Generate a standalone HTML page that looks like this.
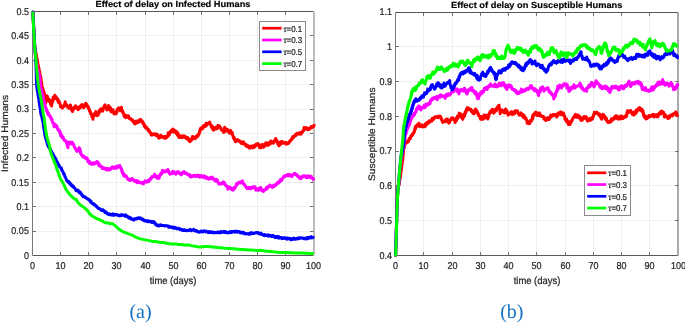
<!DOCTYPE html>
<html><head><meta charset="utf-8"><style>
html,body{margin:0;padding:0;background:#fff;width:685px;height:323px;overflow:hidden}
svg{display:block;will-change:transform}
text{text-rendering:geometricPrecision}
.k{stroke:#262626;stroke-width:0.22}
.kb{stroke:#000;stroke-width:0.15}
</style></head><body>
<svg width="685" height="323" viewBox="0 0 685 323">
<rect width="685" height="323" fill="#fff"/>
<line x1="60.5" y1="11.5" x2="60.5" y2="255.5" stroke="#efefef" stroke-width="1"/>
<line x1="88.5" y1="11.5" x2="88.5" y2="255.5" stroke="#efefef" stroke-width="1"/>
<line x1="116.5" y1="11.5" x2="116.5" y2="255.5" stroke="#efefef" stroke-width="1"/>
<line x1="145.5" y1="11.5" x2="145.5" y2="255.5" stroke="#efefef" stroke-width="1"/>
<line x1="173.5" y1="11.5" x2="173.5" y2="255.5" stroke="#efefef" stroke-width="1"/>
<line x1="201.5" y1="11.5" x2="201.5" y2="255.5" stroke="#efefef" stroke-width="1"/>
<line x1="229.5" y1="11.5" x2="229.5" y2="255.5" stroke="#efefef" stroke-width="1"/>
<line x1="257.5" y1="11.5" x2="257.5" y2="255.5" stroke="#efefef" stroke-width="1"/>
<line x1="285.5" y1="11.5" x2="285.5" y2="255.5" stroke="#efefef" stroke-width="1"/>
<line x1="32.5" y1="231.5" x2="313.5" y2="231.5" stroke="#efefef" stroke-width="1"/>
<line x1="32.5" y1="206.5" x2="313.5" y2="206.5" stroke="#efefef" stroke-width="1"/>
<line x1="32.5" y1="182.5" x2="313.5" y2="182.5" stroke="#efefef" stroke-width="1"/>
<line x1="32.5" y1="157.5" x2="313.5" y2="157.5" stroke="#efefef" stroke-width="1"/>
<line x1="32.5" y1="133.5" x2="313.5" y2="133.5" stroke="#efefef" stroke-width="1"/>
<line x1="32.5" y1="109.5" x2="313.5" y2="109.5" stroke="#efefef" stroke-width="1"/>
<line x1="32.5" y1="84.5" x2="313.5" y2="84.5" stroke="#efefef" stroke-width="1"/>
<line x1="32.5" y1="60.5" x2="313.5" y2="60.5" stroke="#efefef" stroke-width="1"/>
<line x1="32.5" y1="35.5" x2="313.5" y2="35.5" stroke="#efefef" stroke-width="1"/>
<line x1="32.5" y1="11.5" x2="313.5" y2="11.5" stroke="#555555" stroke-width="1"/>
<line x1="32.5" y1="255.5" x2="313.5" y2="255.5" stroke="#5a5a5a" stroke-width="1.2"/>
<line x1="32.5" y1="11.5" x2="32.5" y2="255.5" stroke="#7a7a7a" stroke-width="1"/>
<line x1="314" y1="11.5" x2="314" y2="255.5" stroke="#bdbdbd" stroke-width="2"/>
<path d="M60.5 255.5v-3.3M60.5 11.5v3.3M88.5 255.5v-3.3M88.5 11.5v3.3M116.5 255.5v-3.3M116.5 11.5v3.3M145.5 255.5v-3.3M145.5 11.5v3.3M173.5 255.5v-3.3M173.5 11.5v3.3M201.5 255.5v-3.3M201.5 11.5v3.3M229.5 255.5v-3.3M229.5 11.5v3.3M257.5 255.5v-3.3M257.5 11.5v3.3M285.5 255.5v-3.3M285.5 11.5v3.3M32.5 231.5h3.3M313.5 231.5h-3.3M32.5 206.5h3.3M313.5 206.5h-3.3M32.5 182.5h3.3M313.5 182.5h-3.3M32.5 157.5h3.3M313.5 157.5h-3.3M32.5 133.5h3.3M313.5 133.5h-3.3M32.5 109.5h3.3M313.5 109.5h-3.3M32.5 84.5h3.3M313.5 84.5h-3.3M32.5 60.5h3.3M313.5 60.5h-3.3M32.5 35.5h3.3M313.5 35.5h-3.3" stroke="#6a6a6a" stroke-width="1" fill="none"/>
<text transform="translate(32.5,269.3) scale(1,1.1)" text-anchor="middle" font-family="Liberation Sans" font-size="9.0" class="k" fill="#262626">0</text>
<text transform="translate(60.5,269.3) scale(1,1.1)" text-anchor="middle" font-family="Liberation Sans" font-size="9.0" class="k" fill="#262626">10</text>
<text transform="translate(88.5,269.3) scale(1,1.1)" text-anchor="middle" font-family="Liberation Sans" font-size="9.0" class="k" fill="#262626">20</text>
<text transform="translate(116.5,269.3) scale(1,1.1)" text-anchor="middle" font-family="Liberation Sans" font-size="9.0" class="k" fill="#262626">30</text>
<text transform="translate(145.5,269.3) scale(1,1.1)" text-anchor="middle" font-family="Liberation Sans" font-size="9.0" class="k" fill="#262626">40</text>
<text transform="translate(173.5,269.3) scale(1,1.1)" text-anchor="middle" font-family="Liberation Sans" font-size="9.0" class="k" fill="#262626">50</text>
<text transform="translate(201.5,269.3) scale(1,1.1)" text-anchor="middle" font-family="Liberation Sans" font-size="9.0" class="k" fill="#262626">60</text>
<text transform="translate(229.5,269.3) scale(1,1.1)" text-anchor="middle" font-family="Liberation Sans" font-size="9.0" class="k" fill="#262626">70</text>
<text transform="translate(257.5,269.3) scale(1,1.1)" text-anchor="middle" font-family="Liberation Sans" font-size="9.0" class="k" fill="#262626">80</text>
<text transform="translate(285.5,269.3) scale(1,1.1)" text-anchor="middle" font-family="Liberation Sans" font-size="9.0" class="k" fill="#262626">90</text>
<text transform="translate(313.5,269.3) scale(1,1.1)" text-anchor="middle" font-family="Liberation Sans" font-size="9.0" class="k" fill="#262626">100</text>
<text transform="translate(28.9,258.75) scale(1,1.1)" text-anchor="end" font-family="Liberation Sans" font-size="9.0" class="k" fill="#262626">0</text>
<text transform="translate(28.9,234.35) scale(1,1.1)" text-anchor="end" font-family="Liberation Sans" font-size="9.0" class="k" fill="#262626">0.05</text>
<text transform="translate(28.9,209.95) scale(1,1.1)" text-anchor="end" font-family="Liberation Sans" font-size="9.0" class="k" fill="#262626">0.1</text>
<text transform="translate(28.9,185.55) scale(1,1.1)" text-anchor="end" font-family="Liberation Sans" font-size="9.0" class="k" fill="#262626">0.15</text>
<text transform="translate(28.9,161.15) scale(1,1.1)" text-anchor="end" font-family="Liberation Sans" font-size="9.0" class="k" fill="#262626">0.2</text>
<text transform="translate(28.9,136.75) scale(1,1.1)" text-anchor="end" font-family="Liberation Sans" font-size="9.0" class="k" fill="#262626">0.25</text>
<text transform="translate(28.9,112.35) scale(1,1.1)" text-anchor="end" font-family="Liberation Sans" font-size="9.0" class="k" fill="#262626">0.3</text>
<text transform="translate(28.9,87.95) scale(1,1.1)" text-anchor="end" font-family="Liberation Sans" font-size="9.0" class="k" fill="#262626">0.35</text>
<text transform="translate(28.9,63.55) scale(1,1.1)" text-anchor="end" font-family="Liberation Sans" font-size="9.0" class="k" fill="#262626">0.4</text>
<text transform="translate(28.9,39.15) scale(1,1.1)" text-anchor="end" font-family="Liberation Sans" font-size="9.0" class="k" fill="#262626">0.45</text>
<text transform="translate(28.9,14.75) scale(1,1.1)" text-anchor="end" font-family="Liberation Sans" font-size="9.0" class="k" fill="#262626">0.5</text>
<polyline points="32.8,11.5 32.8,12.8 32.8,12.0 32.9,12.3 32.9,12.4 32.9,13.8 32.9,13.3 33.0,16.3 33.0,13.7 33.0,16.6 33.0,15.1 33.1,16.7 33.1,17.9 33.1,18.1 33.1,18.3 33.2,17.2 33.2,18.5 33.2,20.2 33.2,18.9 33.3,19.5 33.3,21.7 33.3,22.1 33.3,20.8 33.4,20.3 33.4,20.7 33.4,22.4 33.4,24.2 33.5,25.0 33.5,25.5 33.5,24.0 33.5,24.8 33.6,24.8 33.6,26.1 33.6,26.2 33.6,27.1 33.7,27.7 33.7,27.8 33.7,27.9 33.7,28.5 33.7,29.2 33.8,28.6 33.8,30.4 33.8,32.0 33.8,30.8 33.9,30.6 33.9,32.4 33.9,32.8 33.9,32.9 34.0,33.2 34.0,33.0 34.0,33.7 34.0,34.9 34.1,35.9 34.1,36.2 34.1,35.4 34.1,36.7 34.2,36.2 34.2,38.1 34.2,37.8 34.2,38.3 34.3,37.9 34.3,38.6 34.3,40.5 34.3,38.7 34.4,40.7 34.4,40.6 34.4,41.0 34.4,41.2 34.5,42.2 34.5,42.0 34.5,43.0 34.5,44.0 34.6,44.2 34.6,45.6 34.6,43.3 34.7,45.4 34.7,45.8 34.8,46.6 34.9,46.4 34.9,46.6 35.0,47.8 35.0,47.4 35.1,47.7 35.2,48.7 35.2,50.1 35.3,50.9 35.3,50.2 35.4,49.6 35.5,50.9 35.5,50.7 35.6,51.3 35.7,51.9 35.8,54.2 35.9,52.9 36.0,52.8 36.1,53.2 36.1,54.1 36.2,54.8 36.3,56.5 36.4,55.7 36.5,55.5 36.6,56.7 36.7,57.7 36.8,59.0 36.9,58.3 37.0,58.0 37.1,58.5 37.1,60.4 37.2,60.6 37.3,62.2 37.4,60.2 37.5,61.3 37.5,60.0 37.6,62.3 37.7,62.0 37.8,63.0 37.8,63.9 37.9,64.8 38.0,65.6 38.1,64.2 38.2,65.3 38.2,65.0 38.3,66.0 38.4,67.3 38.5,66.1 38.5,67.7 38.6,68.0 38.7,68.2 38.8,68.4 38.9,69.5 38.9,70.7 39.0,70.8 39.1,68.6 39.3,72.3 39.4,72.0 39.5,72.0 39.6,72.8 39.7,71.8 39.9,72.9 40.0,73.9 40.1,74.3 40.2,74.3 40.3,75.0 40.4,75.6 40.5,76.0 40.6,76.8 40.6,77.1 40.7,77.4 40.8,77.8 40.8,77.8 40.9,78.3 41.0,78.6 41.0,78.8 41.1,80.5 41.1,80.4 41.2,80.7 41.3,80.5 41.3,81.5 41.4,81.0 41.5,82.6 41.5,83.5 41.6,82.5 41.7,83.1 41.7,83.7 41.8,85.3 41.9,85.4 41.9,86.2 42.0,86.0 42.1,86.9 42.2,87.4 42.3,87.5 42.4,88.1 42.6,87.8 42.7,88.6 42.8,90.5 42.9,89.7 43.0,88.8 43.1,91.1 43.3,90.0 43.4,92.0 43.5,91.9 43.7,91.1 43.8,92.9 43.9,93.7 44.1,92.9 44.2,93.7 44.3,92.9 44.5,95.3 44.6,95.7 44.6,94.7 44.7,96.7 44.7,97.0 44.7,96.7 44.8,97.8 44.8,98.2 44.9,99.4 45.0,98.1 45.1,97.6 45.1,99.1 45.2,100.6 45.3,100.8 45.3,100.9 45.4,101.4 45.5,101.6 45.6,101.6 45.7,103.1 45.8,100.6 45.9,101.2 46.0,100.7 46.1,101.8 46.2,99.9 46.3,98.5 46.4,99.2 46.5,97.3 46.6,97.6 46.7,98.0 46.9,96.7 47.0,95.8 47.1,96.0 47.2,96.1 47.4,96.8 47.6,97.0 47.8,98.3 48.0,100.0 48.2,98.8 48.4,98.5 48.7,99.0 48.9,101.4 49.1,99.9 49.3,101.3 49.6,100.2 49.8,101.9 50.0,102.4 50.1,100.3 50.3,101.5 50.5,102.1 50.6,104.4 50.8,103.4 50.9,103.9 51.1,102.7 51.3,105.4 51.4,105.0 51.6,106.1 51.7,104.2 51.8,103.1 52.0,104.0 52.1,103.0 52.3,102.0 52.4,102.4 52.5,101.4 52.6,101.9 52.7,100.8 52.8,100.5 52.9,99.1 53.0,98.3 53.0,100.3 53.1,98.9 53.2,97.0 53.3,100.1 53.4,97.4 53.6,98.4 54.0,96.7 54.4,97.1 54.8,95.3 55.2,98.4 55.5,97.9 55.8,96.4 56.2,97.7 56.5,97.9 56.8,98.2 57.0,97.9 57.3,99.0 57.6,100.5 57.8,100.7 58.1,99.7 58.3,102.3 58.5,100.8 58.7,101.7 58.9,101.1 59.1,102.4 59.3,102.4 59.5,103.0 59.7,102.5 59.9,103.0 60.0,104.1 60.2,104.4 60.4,105.7 60.6,106.6 60.7,105.8 60.9,106.9 61.1,105.4 61.5,106.7 61.9,106.7 62.4,108.1 62.8,106.8 63.1,107.4 63.5,106.8 63.9,106.3 64.2,106.0 64.3,105.5 64.4,105.2 64.5,104.2 64.6,105.2 64.8,103.4 64.9,104.0 65.0,103.1 65.1,103.1 65.2,101.8 65.3,103.8 65.5,103.3 65.6,103.8 65.8,104.4 65.9,104.7 66.0,103.9 66.2,104.3 66.5,106.1 66.8,104.9 67.1,106.4 67.4,106.8 67.7,106.6 68.1,107.3 68.6,108.2 69.0,106.2 69.3,107.5 69.5,107.3 69.7,106.9 69.8,107.0 70.0,105.9 70.2,105.6 70.3,105.0 70.4,105.2 70.5,105.9 70.6,105.4 70.7,106.5 70.8,105.8 70.9,108.3 71.0,109.1 71.1,109.5 71.2,108.2 71.3,108.3 71.5,109.2 71.8,110.3 72.0,110.4 72.3,110.1 72.5,111.6 72.7,110.1 73.0,109.6 73.2,110.4 73.4,108.9 73.7,108.3 73.9,107.4 74.2,108.9 74.5,108.0 74.8,107.6 75.2,107.0 75.5,105.8 75.9,107.3 76.4,107.6 76.8,107.2 77.1,108.2 77.4,107.6 77.7,107.2 77.9,109.7 78.2,108.9 78.5,109.0 78.7,108.9 78.9,107.9 79.1,109.1 79.3,108.4 79.5,107.6 79.7,107.2 80.0,106.3 80.3,107.4 80.6,106.3 80.8,107.4 81.1,105.9 81.5,104.9 82.0,104.5 82.4,105.1 82.7,106.4 82.9,106.7 83.1,107.0 83.3,107.4 83.5,106.5 83.7,107.8 83.9,106.2 84.0,106.4 84.2,106.0 84.4,106.2 84.6,106.6 84.8,105.5 84.9,104.9 85.1,104.0 85.5,104.3 85.8,103.2 86.2,105.6 86.6,104.2 86.9,105.0 87.1,105.8 87.4,105.5 87.7,107.1 87.9,106.1 88.2,107.8 88.4,108.3 88.6,108.6 88.7,107.6 88.9,109.1 89.1,108.6 89.3,110.3 89.5,111.2 89.6,110.9 89.8,111.6 90.0,111.9 90.2,111.2 90.3,111.9 90.5,113.7 90.7,113.5 90.9,112.5 91.1,114.0 91.2,113.6 91.4,114.1 91.6,114.5 91.8,116.7 91.9,115.6 92.1,116.2 92.3,117.0 92.5,117.2 92.6,117.5 92.8,118.7 93.0,119.3 93.2,116.6 93.4,116.4 93.5,115.9 93.7,115.7 93.9,115.1 94.1,114.8 94.2,113.9 94.5,115.5 94.7,113.5 95.0,114.7 95.3,113.2 95.5,113.5 95.8,111.4 96.0,112.9 96.2,114.7 96.4,113.3 96.6,113.9 96.8,114.1 97.0,115.0 97.2,115.8 97.4,115.6 97.7,115.3 97.9,114.4 98.1,113.8 98.4,114.3 98.6,114.3 98.8,111.7 99.0,113.1 99.1,111.1 99.2,112.3 99.3,112.7 99.4,111.0 99.5,110.1 99.8,109.9 100.2,111.6 100.6,109.9 100.9,108.8 101.2,109.4 101.6,109.7 102.0,110.0 102.3,110.6 102.6,110.4 102.8,111.1 102.9,110.1 103.1,109.8 103.2,108.1 103.4,107.8 103.5,108.0 103.7,107.3 103.9,107.3 104.1,106.0 104.4,106.6 104.6,106.5 104.9,105.1 105.1,104.9 105.3,105.9 105.6,106.8 105.8,108.1 106.0,106.9 106.3,107.6 106.6,107.0 106.9,110.0 107.3,109.8 107.6,109.2 107.8,108.7 108.0,107.7 108.2,108.2 108.4,107.4 108.6,105.4 108.8,105.8 109.0,107.9 109.2,107.6 109.3,107.2 109.5,107.8 109.7,107.4 109.9,110.2 110.4,107.5 110.8,110.2 111.2,111.9 111.6,110.5 112.1,109.8 112.5,110.0 112.9,109.6 113.1,110.7 113.3,111.8 113.6,112.6 113.8,111.7 114.0,113.9 114.3,113.5 114.6,113.6 115.0,112.7 115.5,113.7 115.9,113.5 116.1,113.0 116.2,113.7 116.4,111.7 116.6,111.1 116.7,111.8 116.9,112.3 117.1,109.3 117.3,110.6 117.5,110.4 117.7,109.8 117.9,109.0 118.1,109.1 118.3,108.9 118.5,107.9 118.9,109.3 119.2,107.9 119.5,109.2 119.8,110.3 120.2,110.7 120.6,108.4 121.0,110.6 121.5,107.3 121.7,110.8 121.8,109.7 122.0,110.4 122.2,110.1 122.3,110.8 122.5,111.0 122.7,111.5 122.8,112.9 123.0,111.9 123.2,112.0 123.3,113.1 123.5,113.6 123.7,114.1 123.8,114.9 124.0,115.3 124.2,116.0 124.3,116.5 124.5,116.4 124.8,116.3 125.2,116.2 125.7,117.7 126.1,115.3 126.5,116.5 126.9,116.1 127.4,116.4 127.8,117.1 128.1,117.4 128.4,115.7 128.7,117.1 129.0,117.6 129.4,118.6 129.8,118.7 130.3,118.7 130.7,118.6 131.1,119.6 131.4,119.5 131.8,119.6 132.2,119.8 132.4,119.7 132.6,119.9 132.8,121.3 133.0,121.6 133.2,121.6 133.4,120.9 133.6,122.3 133.9,122.7 134.3,123.3 134.7,123.8 135.2,122.6 135.4,123.8 135.6,121.6 135.8,121.6 136.1,121.1 136.5,121.2 136.9,121.7 137.3,121.0 137.7,121.7 138.1,122.7 138.5,121.1 138.9,121.6 139.2,120.1 139.6,121.2 140.0,120.2 140.4,119.9 140.7,119.3 141.0,121.6 141.3,121.3 141.7,120.7 142.0,120.7 142.3,122.0 142.5,122.7 142.8,122.0 143.1,123.9 143.3,123.4 143.6,123.3 143.9,124.6 144.1,124.6 144.3,124.5 144.5,126.6 144.8,126.9 145.0,125.8 145.3,127.1 145.6,127.8 145.9,126.6 146.2,126.9 146.5,127.9 146.8,128.7 147.1,128.4 147.4,128.5 147.6,129.1 147.9,129.9 148.2,130.6 148.5,129.4 148.7,131.0 149.0,130.9 149.3,130.6 149.5,131.7 149.8,131.8 150.1,133.0 150.4,132.3 150.6,133.5 150.9,133.1 151.2,134.9 151.5,134.7 151.9,135.0 152.4,134.4 152.8,134.9 153.2,133.7 153.6,133.9 154.1,134.5 154.5,134.1 154.9,134.7 155.2,134.9 155.6,134.1 156.0,133.9 156.4,135.8 156.7,135.2 157.1,135.5 157.5,134.6 157.9,135.9 158.3,136.4 158.8,138.3 159.2,137.3 159.6,136.7 160.0,135.9 160.5,137.5 160.9,135.3 161.3,136.7 161.8,136.9 162.2,136.3 162.5,137.0 162.9,136.5 163.3,137.4 163.7,137.2 164.1,138.2 164.6,136.5 165.0,137.5 165.4,137.6 165.8,138.2 166.2,137.7 166.6,137.1 166.9,136.0 167.2,137.1 167.4,135.9 167.7,135.7 168.0,136.3 168.3,132.8 168.5,134.9 168.8,133.8 169.1,134.8 169.3,134.9 169.6,133.2 169.9,132.7 170.2,132.1 170.5,131.3 170.8,131.5 171.1,132.2 171.4,130.9 171.7,130.1 171.9,131.0 172.2,130.1 172.7,129.0 173.1,130.3 173.5,130.1 173.9,132.3 174.3,131.3 174.7,130.2 175.0,132.2 175.4,131.7 175.7,131.1 176.0,132.5 176.4,133.7 176.6,131.5 176.9,133.7 177.2,134.7 177.4,134.6 177.7,135.7 178.0,133.1 178.2,135.3 178.5,134.6 178.8,137.3 179.1,137.0 179.3,135.7 179.7,137.6 180.0,137.3 180.4,137.0 180.8,136.1 181.2,136.2 181.6,137.1 182.0,137.8 182.5,135.8 182.9,136.6 183.4,136.2 183.8,136.3 184.2,136.1 184.6,137.3 185.0,137.5 185.4,136.3 185.8,138.3 186.3,138.3 186.7,138.7 187.1,138.0 187.4,138.6 187.6,138.1 187.9,137.5 188.1,138.7 188.4,138.4 188.7,140.5 188.9,139.8 189.1,141.1 189.3,140.3 189.6,141.5 189.8,140.8 190.1,141.7 190.3,141.4 190.5,140.3 190.8,139.8 191.0,140.4 191.3,139.5 191.5,140.3 191.7,138.5 192.0,138.6 192.2,137.8 192.4,136.6 192.7,136.6 193.0,138.6 193.3,137.0 193.6,138.0 193.9,138.1 194.2,138.7 194.6,138.8 195.0,138.5 195.4,138.5 195.7,136.6 196.1,136.4 196.4,136.1 196.7,136.6 197.0,135.7 197.3,137.0 197.6,135.1 197.9,134.9 198.1,135.9 198.4,134.2 198.7,133.9 198.9,134.4 199.1,134.4 199.2,133.3 199.4,133.2 199.5,131.9 199.7,131.1 199.8,131.1 200.0,131.5 200.2,129.2 200.3,130.2 200.6,129.4 200.8,127.9 201.1,128.4 201.4,128.5 201.6,128.2 201.9,129.0 202.2,128.0 202.6,127.7 202.9,128.5 203.2,125.7 203.5,127.3 204.0,126.1 204.4,125.5 204.8,126.3 205.2,126.4 205.5,124.4 205.8,126.1 206.1,123.3 206.5,124.5 206.8,125.2 207.2,123.9 207.5,123.8 207.9,123.3 208.3,123.1 208.7,122.9 209.1,123.7 209.6,122.8 209.8,122.1 210.0,123.7 210.2,123.8 210.4,124.7 210.6,124.7 210.8,125.4 211.0,125.7 211.3,126.7 211.5,125.6 211.7,126.8 212.0,128.2 212.2,126.0 212.5,126.4 212.7,129.3 213.0,128.2 213.3,129.9 213.6,130.2 213.9,129.4 214.3,128.3 214.6,127.9 215.0,128.4 215.4,128.8 215.9,127.3 216.3,128.8 216.7,128.9 217.0,128.5 217.2,127.5 217.4,127.3 217.7,128.3 217.9,125.4 218.1,127.2 218.4,126.0 218.7,125.5 219.1,127.0 219.4,126.9 219.7,126.2 220.0,127.6 220.3,127.8 220.6,127.8 221.0,128.1 221.3,129.9 221.6,129.3 221.8,130.0 222.1,130.5 222.4,130.3 222.6,130.8 222.9,130.9 223.2,130.7 223.4,132.0 223.7,131.9 223.9,132.4 224.0,132.1 224.1,132.2 224.2,132.2 224.3,130.9 224.4,130.6 224.5,129.5 224.6,127.3 224.7,129.6 224.8,128.6 224.9,127.6 225.0,127.9 225.2,128.2 225.4,129.4 225.6,129.2 225.8,129.6 226.0,131.2 226.4,130.4 226.8,130.2 227.3,129.3 227.7,130.6 228.1,130.8 228.6,131.2 229.0,133.0 229.4,131.6 229.7,132.0 230.1,131.6 230.5,130.3 230.8,132.1 231.1,133.5 231.5,133.0 231.8,134.2 232.1,132.3 232.3,133.3 232.4,134.3 232.6,134.5 232.8,135.3 232.9,135.8 233.1,136.8 233.3,136.5 233.5,137.0 233.6,138.5 233.8,138.0 234.0,137.3 234.1,137.6 234.4,139.7 234.6,138.5 234.9,139.8 235.2,141.4 235.4,140.0 235.7,141.8 236.1,140.6 236.6,140.3 237.0,140.2 237.4,139.5 237.8,140.7 238.1,140.5 238.5,141.1 238.9,140.7 239.3,140.5 239.6,141.7 240.0,141.9 240.4,142.4 240.8,141.6 241.1,143.2 241.5,143.3 241.9,143.6 242.3,143.6 242.7,143.7 243.2,141.8 243.6,141.9 243.9,143.9 244.3,143.3 244.7,144.1 245.0,144.1 245.4,144.6 245.7,145.6 246.0,144.5 246.3,145.7 246.7,146.4 247.0,146.5 247.4,145.4 247.8,146.8 248.1,146.7 248.5,145.9 248.8,147.7 249.1,147.6 249.4,147.1 249.8,148.1 250.1,146.6 250.5,146.3 250.9,146.3 251.3,146.8 251.6,147.2 252.0,146.4 252.4,145.8 252.7,147.9 253.1,147.4 253.4,147.5 253.7,146.0 254.0,146.5 254.3,147.4 254.5,146.8 254.7,145.6 255.0,146.7 255.2,146.2 255.4,144.7 255.7,144.7 256.0,145.8 256.3,144.1 256.6,144.1 256.9,144.1 257.3,144.0 257.6,144.0 257.9,143.5 258.2,143.7 258.5,145.0 258.8,144.9 259.1,144.9 259.4,147.4 259.6,145.4 259.9,145.5 260.2,146.6 260.5,147.9 260.8,147.6 261.1,146.3 261.4,146.6 261.7,144.7 262.2,144.3 262.6,145.1 263.0,144.7 263.4,147.3 263.9,146.8 264.3,146.5 264.7,146.0 265.0,145.6 265.2,143.9 265.5,144.7 265.7,144.5 265.9,142.8 266.2,143.4 266.4,142.9 266.7,143.5 266.9,143.1 267.2,144.7 267.5,145.2 267.8,145.4 268.1,144.5 268.4,145.0 268.7,143.9 269.0,144.5 269.3,142.7 269.6,142.0 270.0,143.1 270.3,144.1 270.6,142.3 270.9,140.9 271.3,141.1 271.8,141.5 272.2,142.4 272.6,141.7 273.0,143.2 273.3,143.2 273.7,141.4 274.1,142.1 274.3,140.6 274.6,140.4 274.9,140.2 275.2,139.8 275.4,139.7 275.7,138.5 276.0,141.4 276.4,140.8 276.6,140.0 276.8,141.9 277.0,140.9 277.1,142.3 277.3,141.9 277.5,141.4 277.6,143.7 277.9,143.4 278.1,143.5 278.3,144.6 278.6,145.0 278.8,145.2 279.0,145.9 279.2,145.0 279.4,145.5 279.5,144.2 279.7,143.2 279.9,142.8 280.0,142.3 280.5,143.0 280.9,144.2 281.3,142.8 281.7,141.4 282.2,143.0 282.6,141.7 283.0,142.6 283.5,142.4 283.9,143.3 284.4,142.7 284.8,142.8 285.2,142.5 285.5,142.5 285.9,142.4 286.3,144.2 286.7,143.2 287.2,143.8 287.6,143.4 287.9,143.5 288.2,143.5 288.6,143.2 288.9,142.3 289.2,141.6 289.5,142.2 289.7,141.7 290.0,141.6 290.3,140.2 290.6,140.1 290.8,140.1 291.1,139.6 291.4,140.0 291.6,139.5 291.9,138.5 292.2,137.9 292.5,136.9 292.8,138.5 293.1,137.8 293.4,136.5 293.8,137.0 294.1,136.1 294.5,136.5 294.9,135.7 295.2,134.8 295.6,134.8 295.9,135.5 296.2,135.1 296.5,133.6 296.8,133.2 297.2,133.4 297.6,134.0 298.0,133.7 298.3,133.9 298.7,133.0 299.1,134.2 299.5,132.7 299.8,133.2 300.2,134.0 300.5,132.6 300.8,132.5 301.1,134.2 301.4,133.1 301.8,132.6 302.1,132.5 302.4,132.3 302.7,131.0 303.0,130.9 303.3,130.6 303.6,130.7 303.8,130.0 304.1,127.4 304.4,128.9 304.7,129.2 305.1,128.8 305.6,128.2 306.0,127.7 306.4,127.5 306.8,128.5 307.1,128.4 307.5,129.8 307.8,129.7 308.2,129.3 308.5,128.4 308.8,128.2 309.1,128.3 309.5,129.3 310.0,128.5 310.4,127.6 310.8,128.1 311.2,126.5 311.7,127.8 312.1,127.0 312.5,126.5 312.9,126.3 313.2,126.2 313.6,126.6 313.9,126.2 314.3,124.0" fill="none" stroke="#ff0000" stroke-width="3.0" stroke-linejoin="round" stroke-linecap="butt"/>
<polyline points="32.8,11.5 32.8,12.1 32.8,12.9 32.9,12.8 32.9,12.6 32.9,13.6 32.9,14.3 33.0,13.9 33.0,15.7 33.0,16.2 33.0,15.1 33.1,16.4 33.1,17.2 33.1,17.2 33.1,18.1 33.2,17.5 33.2,19.2 33.2,19.7 33.2,19.8 33.3,20.9 33.3,20.9 33.3,21.5 33.3,20.3 33.4,21.9 33.4,23.5 33.4,22.4 33.4,22.0 33.5,23.2 33.5,23.9 33.5,23.8 33.5,24.9 33.6,25.5 33.6,26.3 33.6,26.2 33.6,26.2 33.7,27.7 33.7,27.1 33.7,27.9 33.7,28.8 33.7,29.1 33.8,29.5 33.8,30.1 33.8,30.6 33.8,31.2 33.9,31.2 33.9,31.2 33.9,32.1 33.9,32.7 33.9,34.0 33.9,33.3 34.0,34.1 34.0,33.9 34.0,35.3 34.0,34.6 34.0,37.0 34.0,36.7 34.1,36.3 34.1,36.2 34.1,37.2 34.1,38.0 34.1,39.5 34.2,38.9 34.2,38.3 34.2,39.2 34.2,40.8 34.2,40.5 34.2,41.1 34.3,40.4 34.3,42.2 34.3,43.3 34.3,42.5 34.3,43.4 34.4,42.9 34.4,44.5 34.4,44.3 34.4,45.0 34.5,45.5 34.5,47.0 34.6,46.6 34.6,47.4 34.6,46.4 34.7,48.2 34.7,48.8 34.8,49.5 34.8,49.3 34.9,49.6 34.9,49.2 35.0,50.6 35.0,51.9 35.0,51.6 35.1,51.6 35.1,52.5 35.2,52.9 35.2,53.3 35.3,54.4 35.3,53.5 35.4,53.8 35.4,54.9 35.5,55.3 35.5,55.5 35.5,56.5 35.6,57.0 35.6,57.0 35.7,58.1 35.7,58.8 35.8,58.0 35.8,59.2 35.9,58.6 35.9,60.2 36.0,60.5 36.1,62.2 36.2,61.0 36.2,61.3 36.3,61.9 36.4,62.8 36.5,62.1 36.6,64.2 36.7,64.3 36.8,65.0 36.8,65.8 36.9,66.5 37.0,66.2 37.1,65.6 37.2,65.4 37.3,67.4 37.3,67.5 37.4,67.8 37.5,68.4 37.6,68.8 37.7,69.4 37.8,69.1 37.9,69.4 37.9,70.1 38.0,71.3 38.1,72.6 38.2,71.1 38.3,71.6 38.4,72.4 38.5,73.9 38.7,74.9 38.9,75.4 39.1,74.1 39.3,74.5 39.3,74.4 39.4,74.7 39.4,77.1 39.5,76.9 39.6,76.1 39.6,78.4 39.7,78.3 39.7,78.4 39.8,79.2 39.8,80.0 39.9,80.2 39.9,80.5 40.0,79.6 40.0,80.2 40.1,81.0 40.1,81.4 40.2,81.7 40.3,82.3 40.3,83.5 40.4,84.1 40.4,85.1 40.5,84.5 40.5,85.8 40.6,86.1 40.7,87.0 40.8,86.3 40.9,86.6 41.0,87.0 41.1,87.1 41.2,88.5 41.2,88.8 41.3,89.7 41.4,90.5 41.5,91.1 41.6,90.4 41.7,91.1 41.8,89.9 41.9,91.7 42.0,92.2 42.1,93.1 42.2,93.1 42.2,93.8 42.3,94.3 42.4,93.9 42.5,96.1 42.6,96.1 42.7,96.0 42.8,95.2 42.9,96.5 43.0,97.1 43.1,96.1 43.2,97.8 43.3,98.3 43.4,100.0 43.4,99.4 43.5,99.9 43.6,100.1 43.8,100.8 43.9,100.8 44.0,101.0 44.1,102.8 44.2,103.4 44.3,102.6 44.5,102.7 44.6,102.4 44.7,105.0 44.8,103.3 44.9,104.7 45.0,106.4 45.1,106.2 45.3,106.5 45.4,106.2 45.6,106.8 45.7,107.3 45.9,108.1 46.0,107.9 46.1,108.7 46.3,110.5 46.4,109.1 46.6,109.2 46.8,111.0 46.9,110.6 47.1,110.7 47.3,112.1 47.5,112.0 47.6,113.4 47.8,113.8 48.0,113.7 48.2,114.6 48.5,113.1 48.8,114.8 49.0,115.3 49.3,115.1 49.6,115.5 49.8,116.4 50.0,116.7 50.3,116.8 50.5,117.7 50.7,116.6 51.0,117.9 51.2,118.5 51.3,118.1 51.5,119.3 51.7,118.8 51.8,119.2 52.0,120.7 52.1,119.5 52.3,120.9 52.5,122.1 52.6,122.8 52.8,122.1 53.0,122.4 53.1,122.3 53.3,123.1 53.5,123.7 53.7,123.4 53.8,125.2 54.0,126.1 54.2,126.8 54.6,126.0 55.0,124.3 55.5,125.4 55.8,125.6 56.2,125.4 56.5,126.6 56.8,126.5 57.0,126.2 57.1,127.8 57.3,128.5 57.5,128.3 57.6,128.9 57.8,129.1 58.0,129.0 58.3,129.3 58.5,130.4 58.7,130.3 59.0,130.3 59.2,130.5 59.4,131.9 59.6,131.4 59.8,132.2 60.0,131.2 60.2,133.7 60.4,133.1 60.6,135.8 60.8,135.0 61.0,134.6 61.3,134.4 61.5,135.8 61.7,136.4 62.0,136.7 62.2,137.6 62.4,137.9 62.7,138.1 62.9,138.2 63.1,136.8 63.4,138.8 63.6,139.1 63.8,139.2 64.1,140.3 64.4,140.3 64.7,140.4 65.0,140.0 65.4,141.2 65.8,141.2 66.1,141.6 66.2,142.0 66.4,142.9 66.5,141.6 66.6,142.3 66.8,144.1 66.9,143.8 67.1,143.7 67.2,145.0 67.3,144.5 67.4,146.3 67.5,146.4 67.6,146.8 67.8,146.8 67.9,147.7 67.9,146.5 68.0,146.5 68.1,146.0 68.2,145.6 68.2,145.7 68.3,144.4 68.4,144.0 68.5,142.5 68.6,143.9 69.0,142.4 69.4,143.2 69.9,142.9 70.3,142.1 70.7,142.9 71.1,143.1 71.6,144.0 72.0,143.3 72.4,142.4 72.8,143.8 73.2,143.7 73.4,144.3 73.6,144.6 73.8,144.8 74.0,145.8 74.2,146.6 74.4,146.9 74.6,147.4 74.8,147.5 75.0,148.2 75.2,147.9 75.4,148.8 75.6,148.3 75.8,149.3 76.0,149.5 76.2,149.5 76.5,149.9 76.7,151.3 77.0,151.0 77.2,151.3 77.4,151.1 77.6,150.4 77.8,149.5 78.0,149.8 78.2,149.6 78.5,150.4 78.9,148.5 79.2,147.6 79.4,148.6 79.6,149.3 79.7,149.9 79.9,148.8 80.1,151.3 80.2,150.9 80.4,150.4 80.5,153.1 80.6,151.9 80.7,151.5 80.9,153.1 81.0,154.7 81.1,153.3 81.2,154.6 81.4,154.8 81.7,155.0 82.1,155.1 82.4,155.6 82.7,156.5 83.0,157.0 83.4,156.7 83.8,156.1 84.2,157.1 84.5,157.6 84.9,157.9 85.3,157.6 85.7,158.4 86.0,157.9 86.3,157.5 86.7,159.1 87.0,158.8 87.3,158.4 87.5,160.4 87.7,160.6 87.9,161.8 88.2,161.2 88.6,160.9 88.9,161.5 89.3,161.0 89.7,163.4 90.0,162.3 90.3,162.4 90.6,163.2 91.0,163.1 91.3,164.3 91.7,163.8 92.1,164.2 92.4,163.8 92.8,163.6 93.2,162.9 93.5,163.9 93.9,163.6 94.3,164.1 94.7,162.7 95.2,163.0 95.6,163.1 96.0,162.6 96.5,162.5 96.9,161.5 97.3,163.0 97.6,162.6 97.9,162.2 98.2,163.0 98.5,164.0 98.8,165.3 99.0,163.5 99.2,164.8 99.4,165.3 99.6,166.0 99.8,165.9 100.0,166.1 100.2,166.2 100.6,165.9 101.1,166.0 101.5,166.8 102.0,167.1 102.3,168.5 102.7,167.3 103.1,167.8 103.5,168.5 103.8,168.7 104.2,168.3 104.6,168.7 104.9,168.0 105.3,169.2 105.7,169.4 106.1,169.8 106.4,168.4 106.8,168.8 107.1,168.8 107.4,170.0 107.7,168.9 108.0,168.6 108.4,169.9 108.8,169.1 109.2,169.1 109.5,168.8 109.9,168.6 110.3,169.8 110.7,168.8 111.0,168.7 111.3,167.7 111.7,167.6 112.0,167.5 112.3,166.7 112.6,166.9 113.0,168.1 113.4,168.1 113.8,167.7 114.2,168.4 114.6,167.4 115.1,168.0 115.5,168.2 115.9,166.6 116.3,167.5 116.6,168.1 117.0,166.3 117.4,167.3 117.9,167.2 118.3,165.9 118.7,166.9 119.2,166.7 119.6,165.5 120.0,166.3 120.3,166.6 120.5,167.1 120.8,168.1 121.0,167.9 121.1,169.4 121.3,168.8 121.4,169.5 121.5,168.7 121.6,170.1 121.8,169.6 121.9,171.8 122.0,171.4 122.2,170.7 122.3,172.2 122.5,173.0 122.7,173.4 122.8,173.7 123.0,174.0 123.2,173.5 123.5,173.3 123.8,175.9 124.0,174.7 124.3,175.3 124.6,176.4 125.0,176.0 125.3,175.2 125.7,176.4 126.1,175.9 126.4,176.3 126.7,176.9 127.0,177.8 127.4,178.0 127.7,179.3 128.0,178.8 128.3,179.1 128.6,179.5 129.0,179.6 129.3,180.2 129.7,180.4 130.0,179.1 130.4,179.7 130.8,179.8 131.2,179.9 131.7,179.0 132.1,178.5 132.5,180.0 132.8,179.4 133.2,179.9 133.5,180.1 133.9,179.9 134.3,180.7 134.8,181.5 135.2,181.3 135.6,180.9 136.1,180.6 136.5,181.8 136.9,182.6 137.4,181.3 137.8,180.9 138.3,181.8 138.7,181.6 139.1,182.5 139.5,182.8 139.9,182.6 140.3,182.3 140.7,183.0 141.1,182.9 141.6,182.8 142.0,183.2 142.4,182.6 142.8,182.6 143.2,183.2 143.5,183.9 143.8,182.7 144.2,182.5 144.5,182.2 144.9,180.8 145.3,182.0 145.7,181.7 146.2,181.9 146.6,181.5 147.0,181.1 147.4,182.0 147.8,181.1 148.1,181.2 148.4,180.2 148.8,181.0 149.1,181.3 149.4,180.5 149.7,179.3 150.0,179.1 150.3,178.6 150.7,179.3 150.9,178.4 151.2,178.9 151.5,177.4 151.7,176.9 152.0,177.3 152.3,177.2 152.7,176.6 153.1,176.8 153.4,176.3 153.8,175.8 154.2,175.9 154.6,174.2 155.0,176.6 155.4,176.3 155.8,176.2 156.1,177.4 156.5,175.9 156.8,177.3 157.1,176.2 157.4,178.2 157.8,177.1 158.1,177.7 158.4,177.8 158.7,178.3 158.9,178.0 159.0,178.4 159.2,177.9 159.3,177.6 159.4,177.3 159.5,176.8 159.6,175.9 159.8,175.4 160.0,174.7 160.2,174.5 160.5,174.5 160.8,173.4 161.0,174.6 161.3,173.2 161.6,173.4 161.8,173.6 162.1,172.5 162.4,170.6 162.7,172.2 162.9,171.1 163.4,170.9 163.8,171.5 164.3,172.0 164.7,171.9 165.2,170.7 165.6,171.7 166.1,171.4 166.5,171.5 166.9,171.1 167.4,171.0 167.8,169.5 168.3,170.9 168.6,170.8 168.8,171.7 169.0,173.1 169.2,172.5 169.4,172.8 169.7,173.8 170.0,174.2 170.3,173.7 170.6,173.9 170.9,173.7 171.3,173.3 171.6,173.2 171.9,172.8 172.3,172.4 172.7,171.4 173.1,173.4 173.5,172.4 173.9,172.0 174.3,171.8 174.7,173.4 175.0,173.0 175.5,172.9 175.9,174.2 176.4,173.2 176.8,172.6 177.2,171.9 177.6,172.1 177.9,172.6 178.3,171.6 178.6,172.3 178.9,172.6 179.2,173.5 179.6,173.7 179.9,173.8 180.3,173.9 180.8,173.4 181.2,174.9 181.6,174.4 182.0,174.2 182.3,173.5 182.7,172.3 183.1,172.0 183.5,172.8 184.0,171.6 184.4,172.2 184.6,172.3 184.9,173.4 185.3,173.0 185.7,172.8 186.1,173.6 186.5,173.1 186.9,173.4 187.3,173.7 187.7,174.6 188.0,174.3 188.4,174.4 188.7,174.8 189.0,175.1 189.3,175.7 189.6,175.9 189.9,174.7 190.3,175.9 190.6,177.1 190.9,175.8 191.2,176.8 191.6,176.0 192.0,175.9 192.4,176.5 192.7,175.8 193.2,175.5 193.6,175.8 194.0,176.3 194.5,176.4 194.9,175.3 195.4,175.4 195.8,176.1 196.2,175.9 196.6,176.7 196.9,175.4 197.3,175.3 197.7,175.9 198.2,175.2 198.6,175.6 199.0,175.7 199.4,177.2 199.9,175.7 200.3,175.6 200.7,176.4 201.2,176.9 201.6,175.6 202.1,176.7 202.5,176.6 202.9,177.3 203.4,176.7 203.8,176.6 204.3,175.8 204.7,177.7 205.1,176.5 205.5,176.5 205.9,178.0 206.3,177.6 206.6,178.4 207.1,177.3 207.5,177.6 207.9,178.5 208.4,179.1 208.8,178.9 209.2,178.5 209.6,178.5 210.1,178.9 210.5,177.3 210.9,178.7 211.4,177.8 211.8,177.5 212.3,177.2 212.7,177.9 213.1,179.0 213.6,179.0 214.0,179.9 214.4,179.1 214.7,179.9 215.1,179.8 215.5,181.1 215.9,179.8 216.3,179.4 216.8,180.3 217.2,179.9 217.4,180.6 217.7,181.6 217.9,182.3 218.2,182.9 218.4,182.9 218.7,183.0 218.9,184.1 219.2,183.7 219.6,184.2 220.0,183.6 220.4,183.6 220.9,183.3 221.3,183.9 221.8,184.0 222.2,182.9 222.6,183.5 223.1,182.0 223.5,183.3 223.9,183.4 224.2,182.5 224.5,183.5 224.9,183.7 225.1,185.1 225.3,184.7 225.5,185.1 225.7,185.4 225.9,185.0 226.2,185.8 226.5,185.9 226.8,186.6 227.1,187.5 227.5,186.4 227.8,189.2 228.2,187.5 228.6,188.2 229.0,188.3 229.4,187.1 229.9,188.4 230.3,187.4 230.7,188.9 231.1,188.2 231.5,188.8 231.8,189.3 232.2,189.8 232.6,188.9 233.0,189.9 233.3,189.6 233.5,189.9 233.8,188.2 234.0,187.5 234.3,187.6 234.6,188.3 234.8,187.3 235.1,188.0 235.4,186.8 235.6,186.7 235.9,186.5 236.2,185.0 236.5,183.9 236.7,184.8 237.0,184.9 237.3,184.6 237.7,183.1 238.1,183.7 238.4,182.6 238.8,182.4 239.3,182.3 239.7,182.7 240.1,182.1 240.5,183.0 240.8,182.1 241.1,182.6 241.5,181.8 241.9,181.6 242.3,180.9 242.5,182.1 242.8,182.7 243.0,183.4 243.3,183.2 243.5,183.9 243.8,184.2 244.0,184.1 244.3,185.1 244.6,184.8 244.9,185.0 245.2,185.7 245.5,186.0 245.8,186.4 246.2,187.8 246.6,187.5 247.0,187.5 247.3,188.6 247.8,188.3 248.2,187.5 248.6,187.2 249.1,187.8 249.5,188.8 250.0,188.1 250.4,188.2 250.8,187.2 251.2,188.7 251.7,187.6 252.1,187.5 252.5,187.6 253.0,186.8 253.4,187.6 253.8,187.1 254.3,187.1 254.7,187.8 254.9,186.8 255.1,187.6 255.4,188.8 255.6,188.5 255.8,190.0 256.1,190.2 256.4,188.5 256.9,189.9 257.3,188.9 257.7,189.8 258.0,188.7 258.3,189.7 258.7,190.3 259.0,188.9 259.3,189.2 259.7,188.0 260.1,187.7 260.4,188.5 260.7,187.5 261.0,188.8 261.2,188.9 261.5,189.8 261.8,190.6 262.2,189.7 262.6,190.6 263.1,190.7 263.5,191.5 263.8,190.5 264.2,190.7 264.6,189.7 265.0,189.8 265.4,189.3 265.8,189.6 266.3,187.6 266.6,188.6 266.8,187.7 267.1,188.7 267.4,188.5 267.6,186.8 267.9,187.3 268.3,186.7 268.7,186.8 269.1,185.8 269.4,185.8 269.9,185.0 270.3,185.6 270.7,186.0 271.1,186.0 271.6,186.9 272.0,185.8 272.5,187.4 272.9,186.4 273.4,185.6 273.8,186.6 274.2,186.1 274.6,185.0 275.0,184.7 275.3,185.6 275.7,184.8 276.1,185.0 276.5,184.5 276.8,184.0 277.2,182.9 277.5,183.7 277.8,182.2 278.1,182.9 278.5,182.7 278.8,183.0 279.1,182.7 279.4,181.5 279.7,181.8 280.1,180.1 280.4,180.4 280.8,179.4 281.2,180.9 281.5,179.9 281.8,180.1 282.1,178.8 282.4,178.5 282.7,178.5 282.9,178.1 283.2,177.5 283.4,177.6 283.6,177.0 283.8,176.2 284.0,177.0 284.2,176.4 284.6,175.9 285.0,176.5 285.5,175.5 285.9,175.8 286.3,175.9 286.7,175.9 287.2,174.8 287.6,175.4 287.9,175.1 288.3,174.4 288.7,175.4 289.1,175.9 289.5,174.6 289.9,174.7 290.4,175.7 290.7,174.9 291.1,175.8 291.5,175.6 291.9,176.6 292.2,176.1 292.5,175.6 292.8,175.4 293.1,174.5 293.5,174.5 293.8,174.5 294.2,173.5 294.6,173.3 295.0,173.8 295.3,174.0 295.7,174.6 296.1,174.8 296.5,174.4 296.8,174.8 297.1,175.3 297.4,176.1 297.8,175.7 298.1,175.9 298.4,176.8 298.7,176.6 299.0,177.6 299.3,177.5 299.7,178.5 300.1,178.0 300.5,177.0 301.0,178.2 301.3,178.4 301.6,177.9 302.0,177.6 302.3,177.3 302.6,176.2 303.0,175.8 303.3,175.8 303.7,175.8 304.1,175.7 304.5,176.3 304.8,176.2 305.2,175.9 305.6,177.1 305.9,176.8 306.2,176.7 306.6,177.6 306.9,177.5 307.1,177.5 307.4,176.2 307.7,177.6 307.9,175.7 308.2,176.1 308.6,176.3 308.9,177.3 309.3,177.1 309.7,176.1 310.1,177.4 310.4,177.4 310.8,178.0 311.2,176.2 311.6,177.3 312.0,177.9 312.5,177.8 312.9,178.2 313.1,178.7 313.3,178.8 313.5,179.4 313.7,180.4 313.9,180.6" fill="none" stroke="#ff00ff" stroke-width="3.0" stroke-linejoin="round" stroke-linecap="butt"/>
<polyline points="32.8,11.5 32.8,12.2 32.9,12.1 32.9,12.8 32.9,12.7 32.9,13.6 33.0,13.7 33.0,14.7 33.0,15.3 33.0,15.3 33.1,16.1 33.1,16.4 33.1,16.3 33.1,17.5 33.2,17.6 33.2,18.5 33.2,19.1 33.3,19.3 33.3,19.2 33.3,20.1 33.3,20.0 33.4,20.3 33.4,21.5 33.4,22.1 33.4,22.1 33.5,22.2 33.5,23.1 33.5,23.6 33.5,24.4 33.6,24.3 33.6,25.7 33.6,26.0 33.7,25.9 33.7,26.0 33.7,27.2 33.7,27.4 33.8,27.0 33.8,27.8 33.8,28.1 33.8,29.3 33.9,28.8 33.9,30.6 33.9,30.4 33.9,30.4 34.0,30.8 34.0,31.7 34.0,32.0 34.0,32.3 34.1,32.6 34.1,34.5 34.1,33.7 34.1,34.6 34.2,34.5 34.2,35.4 34.2,35.2 34.2,35.9 34.3,37.3 34.3,37.0 34.3,38.5 34.3,37.8 34.4,38.6 34.4,39.2 34.4,39.8 34.4,40.4 34.5,39.7 34.5,41.2 34.5,41.1 34.5,41.7 34.6,41.7 34.6,41.6 34.6,43.4 34.6,43.5 34.7,43.8 34.7,44.0 34.7,44.3 34.7,44.6 34.8,46.1 34.8,46.4 34.8,46.3 34.8,47.8 34.9,46.9 34.9,48.0 34.9,48.2 34.9,49.1 35.0,48.2 35.0,50.3 35.0,50.1 35.0,50.5 35.1,51.1 35.1,51.3 35.1,52.0 35.2,52.8 35.2,51.9 35.2,52.7 35.3,54.1 35.3,53.7 35.3,55.2 35.4,55.1 35.4,56.0 35.5,55.8 35.5,56.5 35.5,57.1 35.6,57.2 35.6,57.4 35.6,58.4 35.6,58.6 35.7,58.2 35.7,59.4 35.7,60.4 35.7,60.3 35.7,61.0 35.8,61.1 35.8,62.1 35.8,62.2 35.8,62.9 35.9,64.2 35.9,64.3 35.9,63.6 35.9,65.4 35.9,64.9 36.0,65.6 36.0,65.8 36.0,66.8 36.0,66.5 36.0,67.1 36.0,67.2 36.1,68.9 36.1,68.8 36.1,68.7 36.1,69.2 36.1,69.5 36.1,71.0 36.1,70.6 36.2,71.3 36.2,72.1 36.2,72.1 36.2,72.9 36.2,73.0 36.2,73.5 36.2,73.2 36.2,74.2 36.3,75.0 36.3,75.1 36.3,75.7 36.3,76.3 36.3,77.1 36.3,77.1 36.3,77.7 36.3,77.9 36.4,78.4 36.4,78.3 36.4,79.2 36.4,79.8 36.4,79.6 36.4,80.7 36.5,81.2 36.5,82.0 36.5,82.3 36.5,82.7 36.6,83.4 36.6,82.5 36.6,83.6 36.6,83.8 36.7,84.5 36.7,85.7 36.7,85.2 36.8,86.4 36.8,86.3 36.8,87.5 36.9,87.4 36.9,87.6 37.0,88.6 37.1,88.4 37.2,89.1 37.2,89.8 37.3,89.7 37.4,91.6 37.5,91.4 37.5,91.3 37.6,91.6 37.7,92.5 37.7,92.5 37.8,93.1 37.9,93.8 38.0,94.6 38.0,94.9 38.1,95.4 38.2,95.3 38.2,96.4 38.3,96.8 38.4,96.4 38.5,97.4 38.5,97.5 38.6,98.4 38.7,98.5 38.7,97.9 38.8,99.2 38.9,99.4 39.0,100.1 39.0,101.7 39.1,101.3 39.2,101.3 39.2,101.7 39.3,102.6 39.3,102.4 39.4,103.0 39.5,103.8 39.5,104.5 39.6,105.2 39.7,105.7 39.7,105.6 39.8,106.3 39.9,106.6 39.9,106.6 40.0,107.9 40.1,108.0 40.1,108.0 40.2,109.2 40.3,108.8 40.3,110.1 40.4,110.1 40.5,111.0 40.5,110.5 40.6,112.1 40.7,112.7 40.7,112.1 40.8,112.8 40.9,112.9 40.9,114.3 41.0,114.5 41.0,114.5 41.1,115.0 41.3,115.6 41.4,115.6 41.6,116.0 41.7,115.8 41.9,117.5 42.0,117.5 42.1,118.4 42.2,118.4 42.3,119.5 42.4,119.1 42.5,120.4 42.6,119.7 42.7,120.5 42.8,121.2 42.8,121.9 42.9,122.0 43.0,122.4 43.1,122.2 43.2,123.1 43.2,124.5 43.3,124.0 43.4,124.7 43.4,125.9 43.5,126.5 43.6,126.1 43.6,126.2 43.7,126.9 43.8,126.6 43.8,127.3 43.9,128.0 43.9,128.6 44.0,129.6 44.1,129.3 44.1,129.8 44.2,130.7 44.3,130.8 44.4,131.0 44.4,131.6 44.5,132.5 44.6,132.5 44.6,133.6 44.7,133.5 44.8,133.5 44.9,134.9 44.9,134.9 45.0,135.9 45.1,135.4 45.2,136.5 45.3,136.5 45.4,136.9 45.5,137.3 45.7,137.3 45.8,139.0 45.9,138.6 46.1,139.8 46.2,139.6 46.3,140.1 46.4,140.4 46.6,141.1 46.7,142.1 46.8,141.7 47.0,142.4 47.1,142.1 47.2,143.9 47.4,144.4 47.5,143.7 47.6,144.8 47.7,144.6 47.9,145.2 48.0,145.6 48.1,146.3 48.3,146.4 48.5,146.3 48.8,147.2 49.1,147.7 49.4,147.2 49.6,147.7 49.9,149.2 50.2,149.2 50.4,149.7 50.6,149.3 50.8,150.7 51.0,150.6 51.2,151.8 51.4,151.1 51.6,151.5 51.8,153.2 52.0,153.0 52.2,153.4 52.4,153.2 52.6,154.3 52.8,154.4 53.1,153.9 53.3,155.1 53.5,155.8 53.7,156.0 54.0,155.9 54.2,156.7 54.4,157.1 54.6,157.3 54.9,157.5 55.1,157.5 55.3,158.7 55.5,158.8 55.7,159.2 56.0,159.0 56.2,160.9 56.4,161.1 56.6,161.5 56.8,162.2 57.0,161.5 57.2,161.9 57.4,162.4 57.6,162.7 57.8,163.3 58.0,163.4 58.2,164.0 58.4,165.3 58.7,165.1 58.9,164.9 59.1,166.3 59.4,166.1 59.6,166.4 59.8,166.8 60.1,167.2 60.5,167.5 60.8,167.8 61.1,168.5 61.4,169.4 61.5,167.9 61.5,169.3 61.6,169.8 61.8,170.4 62.1,170.3 62.3,170.6 62.6,171.6 62.8,171.7 63.1,172.1 63.3,172.6 63.6,173.9 63.8,173.1 63.9,174.6 64.1,174.4 64.2,174.3 64.4,174.5 64.6,174.7 64.7,175.7 64.9,176.2 65.0,177.0 65.2,176.7 65.4,177.7 65.6,177.8 65.8,177.8 66.0,178.7 66.2,179.1 66.4,179.6 66.6,180.1 66.8,180.8 67.1,180.7 67.5,181.2 67.8,181.7 68.1,181.1 68.4,182.1 68.7,183.0 69.1,182.4 69.4,182.2 69.7,182.8 70.0,183.9 70.3,184.3 70.7,183.5 71.0,185.3 71.3,185.0 71.6,184.9 71.9,186.0 72.2,186.3 72.6,185.6 72.9,186.1 73.2,187.2 73.5,186.4 73.8,187.3 74.1,187.6 74.4,188.1 74.7,188.0 75.0,188.6 75.2,188.6 75.5,189.2 75.8,189.9 76.1,190.7 76.5,190.6 76.9,190.8 77.3,190.8 77.7,191.0 78.1,190.1 78.5,191.4 78.8,192.0 79.2,191.6 79.5,192.8 79.9,193.0 80.2,192.0 80.6,192.9 80.9,194.1 81.2,194.1 81.5,194.5 81.8,194.0 82.1,195.3 82.4,194.9 82.6,195.5 83.0,196.6 83.4,196.1 83.8,196.3 84.2,196.5 84.6,196.7 85.0,197.4 85.3,197.3 85.7,197.4 86.0,197.6 86.4,198.3 86.7,198.4 87.1,198.5 87.4,198.9 87.8,198.7 88.1,199.3 88.5,199.5 88.8,200.0 89.2,199.7 89.5,200.3 89.9,200.9 90.2,201.2 90.6,202.1 90.9,201.0 91.2,202.0 91.5,202.2 91.8,203.4 92.2,203.4 92.5,203.7 92.8,203.7 93.2,203.6 93.6,204.4 93.9,204.7 94.3,204.2 94.7,204.7 95.1,204.9 95.5,205.5 95.8,206.1 96.1,206.0 96.4,205.9 96.8,206.3 97.1,207.1 97.4,207.4 97.7,207.7 98.0,208.2 98.4,208.2 98.7,208.6 99.1,208.8 99.4,208.5 99.8,208.8 100.1,209.1 100.5,209.3 100.9,209.7 101.4,210.5 101.8,209.9 102.2,210.5 102.7,209.8 103.1,209.8 103.5,210.8 103.8,210.6 104.2,210.7 104.5,211.0 104.9,212.5 105.2,212.3 105.6,212.0 106.0,212.4 106.3,212.1 106.7,213.1 107.1,213.3 107.5,214.0 107.9,213.8 108.3,214.3 108.7,214.6 109.2,214.1 109.6,213.9 110.1,214.4 110.5,214.8 110.9,215.1 111.4,214.5 111.8,214.5 112.3,214.4 112.7,213.8 113.2,215.4 113.6,214.6 114.1,215.1 114.5,214.5 115.0,214.4 115.4,214.3 115.9,214.5 116.3,215.0 116.7,215.1 117.2,214.8 117.6,215.2 118.1,215.0 118.5,215.4 118.9,215.1 119.4,215.8 119.8,215.5 120.3,215.5 120.7,215.2 121.1,215.6 121.5,214.5 121.9,214.8 122.3,214.8 122.7,215.3 123.2,215.4 123.6,215.1 124.0,215.6 124.5,215.7 124.9,216.1 125.3,215.9 125.7,214.9 126.1,215.5 126.5,216.3 126.9,215.8 127.3,216.2 127.7,216.7 128.1,217.5 128.5,217.8 128.9,217.1 129.3,218.2 129.7,218.0 130.1,217.6 130.5,218.8 130.9,218.5 131.3,218.2 131.7,218.9 132.1,219.5 132.5,219.4 133.0,219.6 133.4,219.5 133.9,220.1 134.3,218.7 134.7,218.7 135.1,218.7 135.5,218.8 135.9,219.0 136.3,218.4 136.8,218.3 137.2,218.8 137.7,218.4 138.1,217.9 138.6,217.7 139.0,218.3 139.5,218.5 139.9,218.4 140.3,217.7 140.8,218.8 141.2,218.5 141.6,219.1 142.0,219.5 142.4,219.8 142.8,219.0 143.2,220.1 143.6,219.6 144.0,220.3 144.4,221.0 144.8,220.8 145.2,220.4 145.7,220.6 146.1,221.1 146.6,220.9 147.0,221.5 147.4,220.8 147.9,221.7 148.3,221.4 148.8,220.9 149.2,221.2 149.7,221.6 150.1,221.9 150.6,221.9 151.0,221.6 151.5,221.4 151.9,222.5 152.3,221.9 152.8,221.7 153.2,221.5 153.5,222.5 153.9,222.9 154.3,223.0 154.6,222.1 155.0,223.5 155.3,223.3 155.6,224.6 155.9,224.1 156.2,225.0 156.6,225.2 156.9,225.4 157.3,225.7 157.7,225.2 158.2,225.6 158.6,225.1 159.1,225.9 159.5,225.0 160.0,225.1 160.4,225.1 160.9,224.8 161.3,225.6 161.8,225.5 162.2,225.5 162.7,225.4 163.1,225.6 163.5,225.6 164.0,225.8 164.4,225.9 164.9,225.6 165.3,225.9 165.8,225.8 166.2,225.7 166.7,225.6 167.1,225.7 167.6,226.0 168.0,226.1 168.5,227.1 168.9,226.1 169.3,226.5 169.7,226.7 170.2,226.9 170.6,227.2 171.0,227.4 171.4,226.8 171.8,226.9 172.3,227.6 172.7,227.5 173.2,228.2 173.6,227.5 174.0,227.1 174.5,227.7 174.9,228.1 175.4,227.7 175.8,228.2 176.3,228.6 176.7,228.1 177.1,228.8 177.6,228.7 178.0,228.2 178.5,228.3 178.9,228.9 179.3,228.9 179.8,229.6 180.2,228.8 180.7,229.4 181.1,229.4 181.5,229.6 181.9,230.1 182.3,229.9 182.8,230.5 183.2,230.3 183.6,229.8 184.1,230.5 184.5,229.7 185.0,230.5 185.4,230.2 185.9,230.3 186.3,230.6 186.8,230.7 187.2,230.6 187.6,230.3 188.1,230.5 188.5,230.7 189.0,230.0 189.4,230.1 189.9,230.2 190.3,229.4 190.7,230.2 191.2,230.0 191.6,230.8 192.1,230.0 192.5,230.0 192.9,230.0 193.4,229.8 193.8,229.3 194.3,229.8 194.7,230.9 195.1,231.0 195.5,230.5 195.8,230.7 196.2,230.6 196.5,231.3 196.9,231.1 197.3,231.1 197.7,231.8 198.2,232.1 198.6,232.0 199.1,232.1 199.5,232.2 199.9,231.7 200.4,231.8 200.8,231.1 201.2,231.8 201.7,231.6 202.1,231.1 202.6,231.5 203.0,231.9 203.4,231.4 203.9,230.9 204.3,230.8 204.8,231.3 205.2,231.3 205.7,231.9 206.1,231.1 206.5,231.2 207.0,231.6 207.4,231.8 207.9,232.5 208.3,231.8 208.8,231.6 209.2,232.7 209.7,231.9 210.1,231.7 210.5,231.9 211.0,232.5 211.4,231.8 211.9,231.9 212.3,232.1 212.8,232.6 213.2,232.2 213.7,232.2 214.1,232.8 214.5,232.6 215.0,232.3 215.4,232.8 215.8,232.8 216.3,232.2 216.7,232.5 217.2,232.5 217.6,232.2 218.0,232.7 218.5,232.1 218.9,232.1 219.4,232.8 219.8,232.9 220.3,232.3 220.7,231.7 221.2,232.5 221.6,231.6 222.1,232.1 222.5,232.2 223.0,232.2 223.4,231.8 223.8,231.4 224.3,231.7 224.7,232.5 225.1,231.5 225.6,232.5 226.0,232.5 226.4,232.1 226.9,232.5 227.3,232.8 227.8,233.0 228.2,232.3 228.6,232.5 229.1,232.5 229.5,232.3 229.9,231.5 230.4,232.1 230.8,232.8 231.3,232.5 231.7,231.5 232.1,232.3 232.6,231.5 233.0,231.6 233.5,231.5 233.9,231.6 234.4,231.4 234.8,232.3 235.3,231.7 235.7,231.1 236.2,231.2 236.6,231.7 237.1,232.0 237.5,232.2 238.0,231.4 238.4,231.9 238.9,231.5 239.3,231.7 239.7,232.2 240.2,232.8 240.6,232.0 241.1,232.4 241.5,232.2 241.9,232.9 242.4,232.4 242.8,233.1 243.2,232.9 243.7,232.4 244.1,233.5 244.5,233.2 245.0,233.2 245.4,234.0 245.9,233.7 246.3,233.6 246.7,233.6 247.2,233.7 247.6,233.8 248.1,234.2 248.6,233.5 249.0,234.3 249.5,233.8 249.9,233.7 250.3,233.0 250.8,234.0 251.2,232.7 251.7,233.7 252.1,232.8 252.5,233.4 253.0,233.2 253.4,233.4 253.9,233.6 254.3,233.3 254.8,233.1 255.2,232.8 255.7,232.8 256.1,232.8 256.5,232.5 257.0,232.5 257.4,233.0 257.9,232.8 258.3,232.5 258.7,233.1 259.1,233.5 259.5,234.1 259.9,234.0 260.4,234.0 260.8,233.7 261.2,233.2 261.6,234.2 262.0,234.6 262.5,234.7 262.9,234.9 263.3,234.7 263.8,234.7 264.2,235.5 264.7,234.6 265.1,235.7 265.5,235.4 266.0,235.3 266.4,235.4 266.9,235.5 267.3,235.7 267.7,234.9 268.2,236.2 268.6,235.7 269.1,235.2 269.5,236.1 270.0,236.1 270.4,235.3 270.9,235.7 271.3,236.1 271.8,236.5 272.2,236.0 272.7,235.4 273.1,235.5 273.5,236.7 274.0,236.9 274.4,236.4 274.9,237.5 275.3,236.6 275.7,236.8 276.2,237.6 276.6,236.9 277.1,236.4 277.5,236.7 278.0,237.0 278.4,238.1 278.8,236.6 279.3,237.1 279.7,238.0 280.2,237.7 280.6,237.8 281.0,237.6 281.5,237.6 281.9,238.6 282.4,238.2 282.8,238.1 283.3,238.5 283.7,238.0 284.2,237.5 284.6,238.2 285.1,238.3 285.5,237.9 286.0,238.5 286.4,238.3 286.9,239.2 287.3,238.0 287.8,238.5 288.2,238.3 288.6,238.4 289.1,238.8 289.5,238.9 290.0,238.4 290.4,239.6 290.9,239.8 291.3,239.0 291.8,238.8 292.2,239.4 292.7,238.6 293.1,238.9 293.6,238.2 294.0,239.1 294.5,238.2 294.9,238.6 295.4,238.7 295.8,239.2 296.3,238.8 296.7,238.9 297.1,238.2 297.6,238.4 298.0,238.4 298.5,238.8 298.9,237.9 299.3,238.5 299.8,237.9 300.2,238.1 300.7,238.0 301.1,237.7 301.6,238.1 302.0,238.2 302.4,238.2 302.9,238.0 303.3,238.3 303.8,238.8 304.2,238.5 304.6,238.6 305.1,238.0 305.5,239.0 306.0,238.9 306.4,238.8 306.8,237.8 307.2,237.9 307.6,238.7 308.1,237.3 308.5,238.3 308.9,237.7 309.4,237.9 309.8,237.3 310.2,237.8 310.7,236.9 311.1,236.5 311.6,237.9 312.0,237.8 312.4,237.6 312.9,237.7 313.3,237.4 313.8,238.3" fill="none" stroke="#0000ff" stroke-width="3.0" stroke-linejoin="round" stroke-linecap="butt"/>
<polyline points="32.7,11.5 33.7,30.0 34.9,50.0 35.8,58.0 37.2,75.0 38.5,86.5 41.2,100.0 43.5,115.0 44.2,118.0 44.7,123.1 45.7,130.2 46.7,136.4 48.2,141.5 49.8,146.6 50.1,150.1 51.7,155.2 53.7,160.3 55.8,165.4 57.3,170.6 57.5,170.0 59.1,175.1 60.6,179.2 62.7,182.3 64.2,185.3 65.7,188.9 67.8,192.0 70.3,195.0 72.9,197.6 75.4,199.6 76.0,199.1 78.1,202.7 80.6,205.2 83.2,206.8 85.7,208.8 87.8,210.8 89.3,213.4 91.3,215.4 93.9,217.0 96.5,218.5 99.0,219.5 101.6,220.6 104.1,222.1 106.7,223.1 109.2,223.1 110.0,223.9 112.0,223.4 114.1,224.9 116.1,226.5 118.2,228.5 120.2,230.0 122.8,231.6 125.3,232.6 127.9,233.6 130.0,234.3 132.6,235.3 135.1,236.9 137.7,237.9 140.2,238.9 142.8,239.4 145.3,239.9 147.9,240.4 150.4,240.9 153.0,241.5 155.6,241.5 158.1,242.0 160.7,242.5 163.2,242.5 165.8,243.0 168.3,243.5 170.9,244.0 173.4,244.0 176.0,244.0 178.5,244.5 181.1,244.5 183.7,245.0 186.2,245.0 188.8,245.0 191.3,245.6 193.9,246.1 195.0,246.3 197.6,246.7 200.1,247.0 202.7,246.7 205.2,246.5 207.8,246.5 210.3,246.7 212.9,247.0 215.4,247.3 218.0,247.6 220.6,247.8 223.1,248.1 225.7,248.2 228.2,248.4 230.8,248.6 233.3,248.8 235.9,249.0 238.4,249.2 241.0,249.4 243.5,249.6 246.1,249.8 248.7,250.0 251.2,250.1 253.8,250.2 256.3,250.4 258.9,250.6 260.1,250.3 265.2,251.1 270.3,251.6 275.4,252.1 280.6,252.4 285.7,252.6 290.8,252.8 295.9,252.9 301.0,253.1 306.1,253.3 311.2,253.4 313.8,253.4" fill="none" stroke="#00ff00" stroke-width="3.0" stroke-linejoin="round" stroke-linecap="butt"/>
<text transform="translate(173,7) scale(1,0.95)" text-anchor="middle" font-family="Liberation Sans" font-size="9.3" font-weight="bold" class="kb" fill="#000">Effect of delay on Infected Humans</text>
<text transform="translate(173,284) scale(1,1.08)" text-anchor="middle" font-family="Liberation Sans" font-size="9.45" class="k" fill="#262626">time (days)</text>
<text transform="translate(8,133.4) rotate(-90) scale(1.08,1)" text-anchor="middle" font-family="Liberation Sans" font-size="9.45" class="k" fill="#262626">Infected Humans</text>
<rect x="259.5" y="21.5" width="46.0" height="49.0" fill="#fff" stroke="#8a8a8a" stroke-width="1"/>
<line x1="262.2" y1="28.2" x2="281.6" y2="28.2" stroke="#ff0000" stroke-width="2.7"/>
<text transform="translate(283.5,31.5) scale(1,1.08)" font-family="Liberation Serif" font-style="italic" font-size="8.8" fill="#1a1a1a" class="k">τ</text>
<text transform="translate(286.6,31.5) scale(1,1.08)" font-family="Liberation Sans" font-size="7.9" fill="#1a1a1a" class="k">=0.1</text>
<line x1="262.2" y1="40.0" x2="281.6" y2="40.0" stroke="#ff00ff" stroke-width="2.7"/>
<text transform="translate(283.5,43.3) scale(1,1.08)" font-family="Liberation Serif" font-style="italic" font-size="8.8" fill="#1a1a1a" class="k">τ</text>
<text transform="translate(286.6,43.3) scale(1,1.08)" font-family="Liberation Sans" font-size="7.9" fill="#1a1a1a" class="k">=0.3</text>
<line x1="262.2" y1="51.8" x2="281.6" y2="51.8" stroke="#0000ff" stroke-width="2.7"/>
<text transform="translate(283.5,55.099999999999994) scale(1,1.08)" font-family="Liberation Serif" font-style="italic" font-size="8.8" fill="#1a1a1a" class="k">τ</text>
<text transform="translate(286.6,55.099999999999994) scale(1,1.08)" font-family="Liberation Sans" font-size="7.9" fill="#1a1a1a" class="k">=0.5</text>
<line x1="262.2" y1="63.6" x2="281.6" y2="63.6" stroke="#00ff00" stroke-width="2.7"/>
<text transform="translate(283.5,66.9) scale(1,1.08)" font-family="Liberation Serif" font-style="italic" font-size="8.8" fill="#1a1a1a" class="k">τ</text>
<text transform="translate(286.6,66.9) scale(1,1.08)" font-family="Liberation Sans" font-size="7.9" fill="#1a1a1a" class="k">=0.7</text>
<line x1="423.5" y1="12.2" x2="423.5" y2="255.4" stroke="#efefef" stroke-width="1"/>
<line x1="452.5" y1="12.2" x2="452.5" y2="255.4" stroke="#efefef" stroke-width="1"/>
<line x1="480.5" y1="12.2" x2="480.5" y2="255.4" stroke="#efefef" stroke-width="1"/>
<line x1="508.5" y1="12.2" x2="508.5" y2="255.4" stroke="#efefef" stroke-width="1"/>
<line x1="536.5" y1="12.2" x2="536.5" y2="255.4" stroke="#efefef" stroke-width="1"/>
<line x1="565.5" y1="12.2" x2="565.5" y2="255.4" stroke="#efefef" stroke-width="1"/>
<line x1="593.5" y1="12.2" x2="593.5" y2="255.4" stroke="#efefef" stroke-width="1"/>
<line x1="621.5" y1="12.2" x2="621.5" y2="255.4" stroke="#efefef" stroke-width="1"/>
<line x1="649.5" y1="12.2" x2="649.5" y2="255.4" stroke="#efefef" stroke-width="1"/>
<line x1="395.5" y1="220.5" x2="678.5" y2="220.5" stroke="#efefef" stroke-width="1"/>
<line x1="395.5" y1="185.5" x2="678.5" y2="185.5" stroke="#efefef" stroke-width="1"/>
<line x1="395.5" y1="151.5" x2="678.5" y2="151.5" stroke="#efefef" stroke-width="1"/>
<line x1="395.5" y1="116.5" x2="678.5" y2="116.5" stroke="#efefef" stroke-width="1"/>
<line x1="395.5" y1="81.5" x2="678.5" y2="81.5" stroke="#efefef" stroke-width="1"/>
<line x1="395.5" y1="46.5" x2="678.5" y2="46.5" stroke="#efefef" stroke-width="1"/>
<line x1="395.5" y1="12.5" x2="678.5" y2="12.5" stroke="#555555" stroke-width="1"/>
<line x1="395.5" y1="255.5" x2="678.5" y2="255.5" stroke="#5a5a5a" stroke-width="1.2"/>
<line x1="395.5" y1="12.5" x2="395.5" y2="255.5" stroke="#7a7a7a" stroke-width="1"/>
<line x1="678" y1="12.5" x2="678" y2="255.5" stroke="#aaaaaa" stroke-width="2"/>
<path d="M423.5 255.5v-3.3M423.5 12.5v3.3M452.5 255.5v-3.3M452.5 12.5v3.3M480.5 255.5v-3.3M480.5 12.5v3.3M508.5 255.5v-3.3M508.5 12.5v3.3M536.5 255.5v-3.3M536.5 12.5v3.3M565.5 255.5v-3.3M565.5 12.5v3.3M593.5 255.5v-3.3M593.5 12.5v3.3M621.5 255.5v-3.3M621.5 12.5v3.3M649.5 255.5v-3.3M649.5 12.5v3.3M395.5 220.5h3.3M678.5 220.5h-3.3M395.5 185.5h3.3M678.5 185.5h-3.3M395.5 151.5h3.3M678.5 151.5h-3.3M395.5 116.5h3.3M678.5 116.5h-3.3M395.5 81.5h3.3M678.5 81.5h-3.3M395.5 46.5h3.3M678.5 46.5h-3.3" stroke="#6a6a6a" stroke-width="1" fill="none"/>
<text transform="translate(395.5,269.3) scale(1,1.1)" text-anchor="middle" font-family="Liberation Sans" font-size="9.0" class="k" fill="#262626">0</text>
<text transform="translate(423.5,269.3) scale(1,1.1)" text-anchor="middle" font-family="Liberation Sans" font-size="9.0" class="k" fill="#262626">10</text>
<text transform="translate(452.5,269.3) scale(1,1.1)" text-anchor="middle" font-family="Liberation Sans" font-size="9.0" class="k" fill="#262626">20</text>
<text transform="translate(480.5,269.3) scale(1,1.1)" text-anchor="middle" font-family="Liberation Sans" font-size="9.0" class="k" fill="#262626">30</text>
<text transform="translate(508.5,269.3) scale(1,1.1)" text-anchor="middle" font-family="Liberation Sans" font-size="9.0" class="k" fill="#262626">40</text>
<text transform="translate(536.5,269.3) scale(1,1.1)" text-anchor="middle" font-family="Liberation Sans" font-size="9.0" class="k" fill="#262626">50</text>
<text transform="translate(565.5,269.3) scale(1,1.1)" text-anchor="middle" font-family="Liberation Sans" font-size="9.0" class="k" fill="#262626">60</text>
<text transform="translate(593.5,269.3) scale(1,1.1)" text-anchor="middle" font-family="Liberation Sans" font-size="9.0" class="k" fill="#262626">70</text>
<text transform="translate(621.5,269.3) scale(1,1.1)" text-anchor="middle" font-family="Liberation Sans" font-size="9.0" class="k" fill="#262626">80</text>
<text transform="translate(649.5,269.3) scale(1,1.1)" text-anchor="middle" font-family="Liberation Sans" font-size="9.0" class="k" fill="#262626">90</text>
<text transform="translate(678.5,269.3) scale(1,1.1)" text-anchor="middle" font-family="Liberation Sans" font-size="9.0" class="k" fill="#262626">100</text>
<text transform="translate(391.9,258.65) scale(1,1.1)" text-anchor="end" font-family="Liberation Sans" font-size="9.0" class="k" fill="#262626">0.4</text>
<text transform="translate(391.9,223.91) scale(1,1.1)" text-anchor="end" font-family="Liberation Sans" font-size="9.0" class="k" fill="#262626">0.5</text>
<text transform="translate(391.9,189.16) scale(1,1.1)" text-anchor="end" font-family="Liberation Sans" font-size="9.0" class="k" fill="#262626">0.6</text>
<text transform="translate(391.9,154.42) scale(1,1.1)" text-anchor="end" font-family="Liberation Sans" font-size="9.0" class="k" fill="#262626">0.7</text>
<text transform="translate(391.9,119.68) scale(1,1.1)" text-anchor="end" font-family="Liberation Sans" font-size="9.0" class="k" fill="#262626">0.8</text>
<text transform="translate(391.9,84.94) scale(1,1.1)" text-anchor="end" font-family="Liberation Sans" font-size="9.0" class="k" fill="#262626">0.9</text>
<text transform="translate(391.9,50.19) scale(1,1.1)" text-anchor="end" font-family="Liberation Sans" font-size="9.0" class="k" fill="#262626">1</text>
<text transform="translate(391.9,15.45) scale(1,1.1)" text-anchor="end" font-family="Liberation Sans" font-size="9.0" class="k" fill="#262626">1.1</text>
<polyline points="395.6,255.5 395.6,255.5 395.6,255.7 395.6,253.6 395.7,252.4 395.7,253.4 395.7,251.7 395.7,251.9 395.7,250.9 395.7,252.3 395.7,250.5 395.7,251.2 395.8,250.3 395.8,249.3 395.8,248.8 395.8,249.1 395.8,248.0 395.8,248.4 395.8,247.3 395.9,246.7 395.9,246.8 395.9,247.7 395.9,244.8 395.9,245.8 395.9,244.3 395.9,244.1 395.9,245.9 396.0,244.2 396.0,242.5 396.0,240.8 396.0,242.9 396.0,242.4 396.0,241.7 396.0,241.1 396.1,239.9 396.1,239.5 396.1,239.3 396.1,238.2 396.1,237.9 396.1,238.9 396.1,237.4 396.1,237.6 396.2,237.1 396.2,235.7 396.2,236.7 396.2,234.4 396.2,234.8 396.2,235.5 396.2,232.9 396.3,234.7 396.3,231.8 396.3,233.8 396.3,232.9 396.3,231.9 396.3,230.6 396.3,231.5 396.3,230.6 396.4,229.9 396.4,229.4 396.4,229.2 396.4,227.9 396.4,228.4 396.4,227.6 396.4,227.6 396.4,227.1 396.5,225.6 396.5,227.1 396.5,224.4 396.5,224.6 396.5,223.6 396.5,223.9 396.5,222.4 396.6,222.0 396.6,223.4 396.6,222.0 396.6,222.6 396.6,222.2 396.6,220.7 396.6,220.8 396.6,219.4 396.7,218.0 396.7,218.6 396.7,218.3 396.7,219.0 396.7,218.1 396.7,218.4 396.7,215.3 396.7,217.1 396.8,217.6 396.8,215.2 396.8,214.7 396.8,213.2 396.8,215.2 396.8,213.6 396.8,213.5 396.8,212.6 396.9,212.5 396.9,211.9 396.9,211.5 396.9,210.1 396.9,209.6 396.9,209.6 396.9,209.6 396.9,208.1 397.0,209.6 397.0,208.3 397.0,206.7 397.0,206.2 397.0,206.8 397.0,206.2 397.0,204.4 397.0,206.0 397.1,204.3 397.1,205.5 397.1,203.4 397.1,202.3 397.1,203.8 397.1,203.0 397.1,202.0 397.1,202.0 397.2,201.1 397.2,203.1 397.2,200.7 397.2,200.6 397.2,198.8 397.3,198.9 397.3,198.6 397.3,199.4 397.3,198.6 397.4,197.1 397.4,196.1 397.4,196.5 397.5,195.8 397.5,195.8 397.5,195.3 397.6,193.8 397.6,194.0 397.6,195.6 397.7,192.9 397.7,193.9 397.7,192.2 397.7,193.2 397.8,192.4 397.8,192.0 397.8,190.6 397.9,191.0 397.9,189.1 397.9,190.4 398.0,189.1 398.0,188.9 398.0,189.3 398.1,188.0 398.1,186.1 398.2,186.5 398.4,185.8 398.6,185.9 398.7,185.2 398.9,184.5 399.0,184.0 399.0,183.4 399.1,183.5 399.2,184.6 399.3,184.1 399.3,181.5 399.4,182.8 399.5,181.9 399.6,181.9 399.7,181.2 399.7,178.5 399.8,179.0 399.9,177.1 400.0,178.0 400.0,179.0 400.1,176.6 400.2,177.9 400.3,177.5 400.3,178.3 400.4,175.8 400.5,176.7 400.6,173.2 400.6,174.6 400.7,173.5 400.7,175.1 400.8,171.9 400.8,171.7 400.9,172.9 401.0,172.3 401.0,170.7 401.1,172.2 401.1,170.1 401.2,171.0 401.2,170.4 401.3,170.5 401.4,169.6 401.4,168.3 401.5,169.2 401.5,167.1 401.6,167.6 401.6,168.4 401.7,166.1 401.8,166.5 401.8,164.1 401.9,164.6 401.9,165.0 402.0,162.6 402.1,163.5 402.2,163.8 402.2,164.3 402.3,162.4 402.4,160.2 402.5,161.2 402.5,161.0 402.6,160.7 402.7,160.3 402.7,158.8 402.8,158.2 402.8,158.9 402.8,160.3 402.9,157.7 402.9,157.3 402.9,157.8 403.0,154.8 403.0,156.1 403.1,155.9 403.1,155.5 403.1,153.8 403.2,154.4 403.2,152.4 403.2,152.8 403.3,154.0 403.3,151.6 403.3,153.2 403.4,151.7 403.4,151.4 403.4,150.2 403.5,151.2 403.5,149.9 403.6,149.6 403.7,148.0 403.8,146.7 403.9,147.1 403.9,146.4 404.0,147.5 404.1,147.3 404.2,148.1 404.3,146.3 404.4,146.2 404.7,144.3 405.0,144.1 405.3,143.7 405.5,144.1 405.8,142.8 406.1,143.2 406.3,142.8 406.6,142.9 406.9,141.4 407.2,141.5 407.5,141.2 407.9,142.2 408.2,141.8 408.5,141.1 408.8,140.1 409.1,138.4 409.3,139.2 409.5,139.2 409.8,138.8 410.0,139.0 410.3,138.8 410.5,138.3 410.7,136.6 411.0,135.8 411.2,136.3 411.5,135.7 411.7,136.2 412.0,135.1 412.3,134.3 412.5,135.2 412.8,133.4 413.1,133.6 413.3,133.8 413.6,132.7 413.7,133.0 413.9,132.0 414.0,132.1 414.2,132.1 414.3,131.6 414.5,130.2 414.6,131.3 414.7,129.3 414.9,128.0 415.0,128.5 415.2,128.6 415.3,127.4 415.5,128.9 415.6,126.2 415.7,126.4 415.9,127.1 416.2,126.0 416.6,125.7 417.0,124.9 417.3,126.2 417.7,124.9 418.1,125.0 418.4,125.6 418.8,123.3 419.2,124.6 419.5,125.9 419.9,126.7 420.3,124.7 420.7,126.5 421.1,126.4 421.5,126.1 422.0,126.1 422.4,124.9 422.8,127.0 423.2,126.9 423.5,126.2 423.8,125.6 424.1,125.4 424.4,125.9 424.8,126.3 425.1,126.6 425.4,123.8 425.8,124.9 426.2,125.1 426.6,122.9 426.9,124.2 427.3,122.2 427.7,123.4 428.1,123.5 428.4,122.3 428.8,122.7 429.2,120.8 429.5,122.2 429.9,121.0 430.3,121.3 430.6,120.7 431.0,121.2 431.4,120.4 431.7,121.3 432.1,118.4 432.4,120.1 432.8,119.0 433.1,118.6 433.4,118.1 433.8,119.3 434.1,119.0 434.4,117.7 434.7,117.8 435.0,116.9 435.4,117.3 435.9,116.7 436.3,116.9 436.7,117.2 437.2,116.5 437.6,116.5 438.0,117.8 438.5,116.2 438.9,116.3 439.3,116.9 439.7,116.9 440.2,116.2 440.6,117.6 440.8,117.3 441.0,118.0 441.2,119.2 441.4,118.5 441.5,119.8 441.7,119.0 441.9,120.4 442.1,120.6 442.2,121.4 442.4,120.9 442.6,122.4 442.8,121.5 443.0,121.7 443.3,122.1 443.6,121.4 444.0,121.2 444.3,121.0 444.7,121.1 445.0,121.2 445.3,121.8 445.7,120.7 446.0,119.2 446.3,119.3 446.7,121.0 447.1,121.3 447.4,118.9 447.8,120.4 448.1,121.5 448.3,121.6 448.5,122.4 448.7,123.2 448.9,122.9 449.1,121.7 449.3,122.6 449.6,122.4 449.8,121.2 450.0,121.0 450.2,120.0 450.5,120.1 450.9,119.2 451.2,119.7 451.6,117.9 452.0,119.4 452.4,117.8 452.9,118.1 453.3,118.9 453.6,119.5 453.8,119.6 454.1,119.2 454.3,120.2 454.5,120.0 454.8,120.6 455.0,122.5 455.3,119.6 455.6,121.6 455.9,118.6 456.3,120.8 456.6,119.9 456.8,119.5 457.0,117.6 457.2,116.5 457.4,118.9 457.6,116.1 457.8,116.9 458.0,117.2 458.2,117.6 458.5,116.4 458.8,115.4 459.0,114.7 459.3,113.1 459.6,115.1 459.9,115.0 460.2,114.9 460.5,115.6 460.8,115.9 461.1,113.9 461.4,117.7 461.7,117.1 462.0,116.4 462.2,117.2 462.5,118.9 462.8,119.3 463.0,117.0 463.2,115.9 463.5,116.7 463.7,117.2 463.9,114.9 464.2,114.7 464.3,114.1 464.5,116.2 464.7,114.3 464.8,114.7 465.0,113.9 465.1,112.1 465.3,114.0 465.4,112.0 465.6,111.4 465.8,112.3 465.9,111.4 466.1,112.1 466.3,109.8 466.5,109.1 466.6,109.8 466.8,110.2 467.0,108.7 467.2,107.9 467.4,108.1 467.8,107.7 468.2,107.8 468.5,109.8 468.9,108.6 469.3,109.5 469.7,109.7 470.0,109.0 470.4,109.7 470.7,109.9 471.0,109.4 471.4,111.4 471.7,110.3 472.0,112.1 472.3,111.2 472.5,112.2 472.8,112.8 473.1,113.4 473.3,111.8 473.6,112.4 474.0,113.7 474.3,113.2 474.6,111.7 474.9,110.0 475.1,111.1 475.3,110.5 475.4,110.9 475.6,109.0 475.8,110.1 475.9,110.3 476.1,110.3 476.3,110.1 476.5,110.4 476.7,111.6 476.9,110.8 477.1,112.9 477.3,112.7 477.4,112.1 477.6,112.9 477.7,113.5 477.9,113.2 478.1,114.2 478.2,113.6 478.4,114.3 478.5,115.5 478.8,115.3 479.2,116.1 479.5,116.3 479.8,116.9 480.1,117.5 480.4,118.9 480.8,117.5 481.1,119.1 481.4,116.4 481.7,119.6 482.1,117.8 482.5,118.8 482.9,118.0 483.2,116.7 483.5,119.0 483.7,117.1 484.0,115.1 484.3,115.3 484.6,116.1 484.9,115.2 485.3,116.6 485.8,117.6 486.2,116.7 486.5,115.8 486.7,116.4 487.0,115.2 487.3,117.9 487.6,116.6 487.8,119.1 488.0,118.3 488.2,118.1 488.3,117.6 488.5,116.4 488.7,116.7 488.9,114.5 489.0,114.5 489.2,113.6 489.4,113.6 489.6,113.4 489.8,113.5 490.0,111.6 490.2,112.4 490.4,111.7 490.6,112.5 490.8,112.6 491.3,111.2 491.7,110.0 492.1,109.5 492.5,109.4 492.8,111.5 493.1,111.2 493.4,110.0 493.8,113.2 494.1,112.0 494.5,110.7 494.9,111.2 495.2,111.7 495.5,111.1 495.7,108.9 496.0,109.0 496.2,110.8 496.4,109.3 496.6,108.7 496.9,109.7 497.1,107.6 497.3,107.4 497.6,108.5 497.8,107.9 498.0,106.3 498.4,105.7 498.8,106.5 499.1,105.2 499.2,107.7 499.3,109.3 499.4,109.3 499.6,109.4 499.7,109.1 499.8,109.5 499.9,111.4 500.0,111.2 500.1,113.8 500.3,110.4 500.5,110.8 500.7,110.4 500.9,111.2 501.1,111.3 501.3,110.1 501.5,110.0 501.8,110.3 502.0,110.0 502.2,111.8 502.5,110.0 502.7,111.8 503.1,111.4 503.5,112.3 503.9,111.8 504.2,112.7 504.4,111.3 504.6,112.9 504.8,111.8 505.0,111.5 505.2,110.6 505.4,110.2 505.6,109.0 505.8,110.4 506.0,109.7 506.2,109.6 506.4,110.2 506.6,111.1 506.8,112.1 507.0,112.8 507.2,112.9 507.4,111.5 507.6,113.9 507.8,113.5 508.0,115.1 508.2,114.1 508.5,114.8 508.9,113.1 509.2,113.6 509.5,114.0 509.8,113.9 510.1,113.5 510.4,112.7 510.8,112.4 511.1,112.8 511.4,113.3 511.6,111.5 511.8,112.9 512.0,113.3 512.2,114.4 512.4,114.0 512.6,113.7 512.8,114.0 513.0,113.9 513.2,114.2 513.5,113.9 513.7,112.1 513.9,112.0 514.2,112.8 514.4,113.6 514.8,113.7 515.1,111.0 515.5,110.7 515.8,111.8 516.2,111.6 516.5,111.5 516.8,111.7 517.1,111.1 517.3,111.8 517.6,111.0 517.9,112.4 518.1,112.8 518.4,113.8 518.7,114.1 519.0,113.5 519.2,115.0 519.5,114.6 519.9,115.2 520.2,115.2 520.6,113.8 521.0,112.9 521.3,114.9 521.6,114.0 522.0,113.9 522.3,114.1 522.6,116.3 522.9,116.7 523.2,114.6 523.5,117.6 523.9,116.8 524.2,117.2 524.5,115.7 524.8,118.2 525.1,117.4 525.5,118.1 525.7,119.2 525.9,118.8 526.1,118.4 526.3,119.5 526.4,119.5 526.6,120.1 526.8,120.2 527.0,120.8 527.1,123.3 527.5,121.8 527.8,122.6 528.2,123.4 528.6,122.6 528.9,123.7 529.2,121.7 529.6,122.6 529.9,123.3 530.2,120.8 530.6,120.3 530.9,120.2 531.3,121.2 531.7,120.5 531.9,119.1 532.0,119.9 532.1,119.7 532.3,117.6 532.4,117.7 532.5,118.5 532.6,118.4 532.7,115.3 532.9,118.4 533.0,115.2 533.1,115.3 533.2,115.4 533.4,115.3 533.5,115.2 533.6,114.6 533.7,115.8 533.9,113.9 534.3,113.9 534.8,113.5 535.2,112.6 535.6,113.4 536.0,112.1 536.3,114.3 536.7,112.6 537.1,115.5 537.6,113.0 538.0,114.4 538.5,114.0 538.8,114.6 539.2,115.7 539.6,113.1 540.0,114.3 540.3,115.9 540.6,115.1 540.9,115.2 541.2,116.3 541.6,116.3 542.0,116.2 542.4,116.2 542.9,116.9 543.2,116.3 543.4,116.4 543.6,116.5 543.9,119.0 544.1,118.9 544.3,118.6 544.6,118.5 544.9,117.9 545.2,119.8 545.5,119.5 545.8,120.6 546.1,120.2 546.4,119.2 546.7,119.5 547.0,119.8 547.2,119.2 547.5,118.6 547.8,117.6 548.1,118.9 548.4,118.9 548.7,119.6 549.1,119.5 549.3,119.4 549.5,118.7 549.8,117.2 550.0,118.5 550.2,117.3 550.5,117.4 550.7,115.0 551.0,116.0 551.3,116.4 551.7,116.2 552.0,116.4 552.3,115.4 552.7,114.8 553.1,115.1 553.4,114.6 553.8,115.1 554.2,114.8 554.7,114.9 555.1,114.3 555.5,114.6 555.8,116.2 556.1,114.4 556.4,116.3 556.7,117.0 557.0,114.7 557.2,114.4 557.5,115.4 557.7,115.6 557.9,115.5 558.2,113.0 558.4,114.4 558.8,113.8 559.3,113.6 559.7,114.0 560.1,112.8 560.5,111.9 561.0,113.2 561.4,114.8 561.5,113.8 561.9,113.4 562.3,112.7 562.7,113.4 563.1,112.9 563.3,113.8 563.4,113.1 563.6,113.8 563.7,113.9 563.9,114.8 564.0,115.9 564.2,116.0 564.4,116.7 564.5,116.3 564.7,115.8 564.9,119.4 565.2,118.0 565.4,118.3 565.6,118.9 565.9,118.8 566.1,119.8 566.3,120.8 566.5,121.5 566.7,119.1 566.9,120.9 567.1,121.8 567.3,120.9 567.5,122.5 567.7,122.9 568.1,121.1 568.4,124.6 568.7,123.6 569.0,123.3 569.3,123.2 569.7,123.7 570.0,124.4 570.3,122.5 570.6,123.2 570.9,122.3 571.1,121.0 571.3,120.9 571.5,120.6 571.7,120.6 571.9,120.5 572.1,120.7 572.3,119.2 572.5,119.2 572.7,118.5 573.0,118.5 573.2,118.2 573.4,118.1 573.7,117.7 573.9,116.5 574.3,116.2 574.6,115.7 574.9,115.9 575.2,115.0 575.5,114.4 575.8,114.7 576.2,116.7 576.5,117.4 576.8,117.2 577.2,115.2 577.5,116.4 577.9,115.0 578.3,116.4 578.6,116.3 578.9,116.7 579.1,116.7 579.4,118.1 579.7,116.2 579.9,117.8 580.2,118.0 580.5,117.8 580.7,119.1 581.0,120.4 581.3,118.7 581.6,119.6 581.8,119.6 582.1,120.3 582.4,117.7 582.6,118.4 582.9,119.4 583.3,117.3 583.7,117.6 584.1,116.6 584.6,118.3 585.0,117.1 585.4,116.5 585.8,116.7 586.2,118.5 586.4,116.9 586.6,118.5 586.8,119.7 587.0,118.5 587.2,119.6 587.4,120.3 587.6,121.1 588.0,119.3 588.4,120.5 588.8,120.2 589.3,119.4 589.7,119.8 590.2,118.3 590.6,120.4 591.0,119.9 591.5,118.8 591.9,119.3 592.2,118.4 592.4,119.0 592.5,117.0 592.6,119.0 592.7,117.0 592.9,117.4 593.0,116.4 593.1,116.4 593.3,116.5 593.4,116.7 593.5,115.2 593.6,115.0 593.9,114.3 594.3,112.3 594.8,113.7 595.2,113.7 595.6,113.1 596.0,112.5 596.5,113.1 596.9,112.1 597.3,113.6 597.6,113.2 598.0,114.0 598.4,113.8 598.8,115.1 599.1,114.5 599.5,113.9 599.9,114.7 600.0,114.5 600.2,116.7 600.3,116.6 600.5,115.9 600.7,116.8 600.8,117.2 601.0,118.3 601.1,117.7 601.3,118.7 601.5,118.7 601.6,119.3 601.8,118.9 602.0,117.6 602.2,117.7 602.3,115.9 602.5,117.2 602.7,116.3 602.9,114.3 603.2,115.9 603.5,114.6 603.8,116.3 604.1,117.5 604.4,116.3 604.7,116.0 605.0,118.1 605.3,119.2 605.5,117.9 605.8,119.5 606.1,120.0 606.3,117.9 606.6,120.7 606.9,119.9 607.1,121.2 607.4,121.8 607.7,121.6 608.0,122.5 608.2,122.0 608.5,121.6 608.8,122.0 609.0,122.5 609.3,121.7 609.7,121.7 610.0,122.0 610.3,120.7 610.6,121.2 610.9,121.9 611.2,120.5 611.4,118.7 611.7,119.3 612.0,119.1 612.3,119.8 612.7,118.7 613.0,119.9 613.4,119.7 613.8,118.5 614.1,118.2 614.4,117.1 614.7,117.9 615.0,118.2 615.4,117.5 615.8,115.7 616.1,117.1 616.5,115.9 616.8,118.4 617.1,116.0 617.3,116.9 617.5,116.5 617.7,116.6 618.0,118.7 618.2,119.2 618.6,118.2 619.0,117.8 619.5,117.7 619.9,117.0 620.3,119.0 620.6,115.9 621.0,117.1 621.4,118.5 621.7,116.2 622.1,117.9 622.4,116.7 622.7,118.6 623.0,117.8 623.3,118.3 623.7,117.6 624.0,116.9 624.3,117.3 624.6,116.5 625.0,117.3 625.4,115.9 625.7,117.1 626.1,116.1 626.3,116.6 626.4,115.5 626.6,116.2 626.8,113.6 626.9,114.2 627.1,113.7 627.2,111.7 627.4,113.2 627.5,110.8 627.8,112.7 628.2,111.7 628.6,112.6 629.1,111.0 629.5,112.1 629.9,111.2 630.3,110.6 630.8,110.6 631.1,111.5 631.4,112.6 631.7,112.7 632.0,113.5 632.4,114.3 632.7,113.7 633.1,112.6 633.5,115.1 633.8,113.7 634.1,114.0 634.4,112.0 634.6,113.8 634.9,114.1 635.2,112.9 635.5,113.4 635.7,113.3 636.0,113.3 636.3,110.0 636.5,112.6 636.8,110.3 637.2,110.6 637.6,109.8 638.1,109.7 638.5,108.3 638.8,110.1 639.2,108.5 639.6,107.6 640.0,108.3 640.3,109.0 640.6,110.3 640.9,108.7 641.2,110.2 641.6,111.3 641.9,109.3 642.3,110.5 642.7,111.4 643.0,110.6 643.1,112.4 643.2,112.6 643.3,114.2 643.4,113.1 643.5,113.6 643.5,114.6 643.6,114.8 643.7,115.2 643.8,115.8 643.9,115.9 644.0,115.3 644.2,117.0 644.5,116.2 644.9,116.5 645.2,118.0 645.5,116.0 645.9,118.9 646.4,117.5 646.8,118.7 647.2,118.5 647.5,118.3 647.8,116.8 648.2,117.5 648.5,116.9 648.9,115.5 649.3,116.5 649.8,116.0 650.2,116.7 650.6,116.1 651.1,115.6 651.5,115.8 651.9,115.6 652.3,116.2 652.7,114.4 653.0,115.5 653.4,115.9 653.9,114.6 654.3,117.0 654.7,114.8 655.1,115.7 655.6,115.1 656.0,116.1 656.4,116.0 656.8,116.6 657.1,114.6 657.5,116.0 657.8,116.8 658.0,116.4 658.1,114.5 658.3,114.5 658.4,115.7 658.6,115.1 658.7,114.8 658.9,113.9 659.1,113.3 659.4,113.3 659.7,113.0 659.9,112.6 660.2,112.2 660.5,112.7 661.0,114.0 661.4,111.3 661.9,112.0 662.2,111.1 662.5,112.0 662.8,112.2 663.2,112.8 663.5,112.3 663.8,113.1 664.1,113.8 664.4,117.1 664.8,115.6 665.1,115.9 665.4,114.8 665.7,115.2 666.0,116.1 666.4,116.8 666.7,116.4 667.0,117.0 667.3,117.4 667.6,117.6 667.9,118.5 668.3,117.8 668.7,116.6 669.0,117.9 669.4,117.9 669.8,115.6 670.1,115.9 670.4,116.0 670.7,115.3 671.0,115.1 671.4,115.2 671.9,114.7 672.3,116.0 672.7,114.5 673.0,114.5 673.3,114.5 673.7,113.6 674.0,113.4 674.3,114.2 674.7,113.3 675.1,113.2 675.4,113.5 675.8,111.9 676.0,112.9 676.2,112.9 676.4,113.9 676.6,115.1 676.8,113.2 677.1,115.5 677.4,115.3 677.7,114.4" fill="none" stroke="#ff0000" stroke-width="3.0" stroke-linejoin="round" stroke-linecap="butt"/>
<polyline points="395.6,255.5 395.6,254.7 395.6,255.5 395.6,253.7 395.7,254.4 395.7,252.4 395.7,253.1 395.7,252.4 395.7,251.9 395.7,251.9 395.7,250.0 395.7,250.3 395.8,248.4 395.8,249.0 395.8,248.9 395.8,248.6 395.8,248.2 395.8,249.0 395.8,248.2 395.9,247.2 395.9,246.1 395.9,246.1 395.9,245.9 395.9,243.7 395.9,244.7 395.9,244.5 395.9,244.0 396.0,242.1 396.0,243.8 396.0,242.5 396.0,242.1 396.0,242.0 396.0,241.8 396.0,240.7 396.1,239.1 396.1,239.1 396.1,239.5 396.1,239.4 396.1,237.8 396.1,238.2 396.1,238.4 396.1,237.2 396.2,236.7 396.2,235.3 396.2,234.7 396.2,234.0 396.2,233.4 396.2,235.6 396.2,233.0 396.3,233.3 396.3,231.8 396.3,232.8 396.3,230.6 396.3,232.7 396.3,230.9 396.3,231.9 396.3,229.6 396.4,229.6 396.4,228.8 396.4,228.6 396.4,229.0 396.4,227.7 396.4,227.6 396.4,227.6 396.5,224.9 396.5,226.2 396.5,225.7 396.5,224.6 396.5,225.5 396.5,223.4 396.5,222.5 396.5,223.6 396.6,223.6 396.6,222.8 396.6,221.0 396.6,221.2 396.6,221.2 396.6,221.0 396.6,220.8 396.6,219.2 396.7,219.7 396.7,218.6 396.7,218.3 396.7,216.4 396.7,218.4 396.7,217.3 396.7,216.5 396.7,215.7 396.8,216.0 396.8,215.5 396.8,214.6 396.8,214.9 396.8,214.5 396.8,213.6 396.8,211.5 396.8,212.8 396.9,212.3 396.9,210.4 396.9,211.7 396.9,211.8 396.9,209.6 396.9,210.9 396.9,209.4 396.9,210.2 397.0,208.5 397.0,207.6 397.0,207.9 397.0,206.9 397.0,207.5 397.0,207.4 397.0,205.1 397.0,205.5 397.1,205.0 397.1,204.3 397.1,203.2 397.1,203.6 397.1,203.3 397.1,201.6 397.1,202.5 397.1,200.4 397.2,201.6 397.2,200.4 397.2,199.9 397.2,200.3 397.2,200.9 397.3,200.3 397.3,198.5 397.3,198.7 397.3,198.8 397.4,196.7 397.4,196.8 397.4,196.8 397.5,197.3 397.5,194.0 397.5,195.2 397.6,194.0 397.6,194.1 397.6,193.3 397.7,194.3 397.7,193.2 397.7,192.8 397.8,192.6 397.8,192.7 397.8,190.1 397.8,191.4 397.9,190.7 397.9,190.7 397.9,189.7 398.0,189.6 398.0,188.5 398.0,188.4 398.1,188.3 398.1,186.6 398.2,185.6 398.3,185.2 398.5,184.8 398.6,185.7 398.7,185.1 398.7,183.3 398.8,182.2 398.8,183.9 398.9,183.4 398.9,183.8 398.9,181.6 399.0,180.2 399.0,182.0 399.1,180.6 399.1,181.1 399.1,180.1 399.2,179.0 399.2,178.9 399.2,178.6 399.3,178.2 399.3,178.3 399.4,177.6 399.4,177.0 399.4,176.4 399.5,175.4 399.5,174.0 399.6,175.5 399.6,174.7 399.6,172.9 399.7,173.2 399.7,171.9 399.8,172.2 399.8,172.6 399.8,171.3 399.9,170.2 399.9,170.9 399.9,171.0 400.0,169.8 400.0,170.0 400.1,168.5 400.1,168.6 400.2,168.4 400.2,168.7 400.3,167.5 400.3,166.9 400.4,166.9 400.4,164.3 400.5,164.6 400.5,165.2 400.6,165.5 400.6,162.1 400.7,164.4 400.8,164.1 400.8,163.1 400.9,162.1 400.9,162.6 401.0,160.9 401.0,162.1 401.1,161.5 401.1,159.3 401.2,159.6 401.2,159.1 401.3,159.6 401.3,157.5 401.4,157.1 401.4,157.0 401.5,157.1 401.5,156.9 401.6,158.0 401.6,155.8 401.7,155.8 401.8,154.8 401.9,154.8 402.0,153.4 402.1,151.9 402.2,152.8 402.3,152.1 402.4,150.9 402.5,151.8 402.6,152.9 402.6,152.1 402.7,150.9 402.8,150.6 402.9,149.9 403.0,149.0 403.1,149.8 403.2,148.5 403.3,148.0 403.4,148.5 403.5,147.9 403.6,144.8 403.7,145.8 403.7,144.9 403.8,145.3 403.9,144.1 404.0,143.9 404.1,144.6 404.2,142.7 404.3,142.9 404.3,142.0 404.4,142.5 404.4,141.3 404.5,141.9 404.5,140.9 404.6,140.9 404.7,140.3 404.7,138.6 404.8,137.7 404.8,138.8 404.9,137.6 404.9,139.9 405.0,136.1 405.0,136.6 405.1,135.6 405.2,136.1 405.3,136.5 405.4,134.8 405.5,132.5 405.6,134.2 405.7,133.9 405.8,133.2 405.9,132.0 406.0,134.0 406.2,131.9 406.3,131.2 406.4,131.1 406.5,130.1 406.6,129.9 406.7,129.8 406.9,131.2 407.0,129.3 407.2,127.5 407.3,128.4 407.5,128.7 407.6,126.1 407.8,128.2 407.9,126.1 408.0,125.3 408.2,125.2 408.5,125.2 408.8,124.1 409.1,125.9 409.3,124.5 409.5,123.4 409.6,124.4 409.8,123.1 409.9,122.3 410.0,121.6 410.2,122.8 410.3,119.6 410.5,120.6 410.7,120.5 410.9,119.5 411.1,119.8 411.3,118.5 411.5,118.3 411.7,117.8 411.9,117.8 412.1,117.2 412.4,117.5 412.6,116.6 412.8,116.1 413.1,116.1 413.3,116.1 413.5,114.5 413.8,115.3 414.0,114.4 414.2,113.3 414.5,114.8 414.7,114.2 414.9,112.7 415.2,113.0 415.4,111.8 415.6,111.7 415.8,111.8 416.0,111.4 416.2,111.5 416.4,109.4 416.6,108.7 416.8,108.6 417.0,108.5 417.2,109.3 417.5,108.9 417.7,107.2 417.9,107.3 418.1,107.2 418.4,106.2 418.6,106.9 418.9,106.0 419.1,107.2 419.4,106.8 419.6,106.5 419.9,107.3 420.1,108.4 420.4,109.5 420.6,109.7 420.9,109.9 421.2,108.9 421.6,107.5 421.9,108.1 422.2,108.0 422.5,107.5 422.8,107.7 423.2,107.2 423.6,107.0 423.9,105.6 424.3,107.8 424.6,106.9 425.0,105.7 425.4,107.2 425.9,104.1 426.3,105.2 426.7,105.3 427.2,105.1 427.6,104.4 428.0,105.0 428.3,103.6 428.7,104.6 429.1,104.1 429.4,103.9 429.6,102.8 429.8,103.7 430.1,103.5 430.3,101.9 430.5,100.6 430.8,100.9 431.0,100.7 431.2,99.6 431.4,99.3 431.7,100.3 432.1,99.6 432.5,98.3 432.9,98.0 433.3,99.1 433.6,97.8 434.0,98.3 434.4,97.4 434.8,98.0 435.2,97.9 435.6,98.4 436.1,98.0 436.4,98.7 436.7,96.5 437.0,98.0 437.3,99.7 437.7,98.1 438.1,97.8 438.5,97.1 438.9,96.0 439.3,97.2 439.6,95.4 440.0,97.3 440.3,95.7 440.6,94.8 441.0,95.4 441.4,96.0 441.8,95.3 442.3,96.3 442.6,95.9 443.0,95.9 443.4,96.8 443.8,96.1 444.1,96.1 444.5,96.6 444.9,95.9 445.2,98.4 445.4,96.2 445.7,97.5 446.0,96.1 446.3,94.6 446.7,96.2 447.0,95.5 447.4,94.1 447.9,95.5 448.3,95.1 448.7,93.7 449.0,94.0 449.3,94.6 449.6,94.9 449.9,95.0 450.3,94.2 450.6,93.6 450.9,93.7 451.3,92.5 451.7,92.2 452.0,92.0 452.5,91.4 452.9,91.0 453.3,90.4 453.6,91.7 453.9,90.7 454.2,89.4 454.5,89.4 454.9,90.1 455.2,88.8 455.5,88.5 455.9,90.2 456.4,89.1 456.8,90.3 457.1,91.5 457.4,89.1 457.7,91.2 457.9,90.7 458.1,90.2 458.3,91.3 458.4,91.2 458.6,92.6 458.8,93.7 459.0,93.8 459.2,92.6 459.4,92.4 459.6,91.9 459.8,91.1 460.0,91.7 460.3,89.8 460.7,90.2 461.2,89.8 461.6,89.3 462.0,90.0 462.4,90.3 462.9,90.4 463.3,91.1 463.7,90.1 463.9,91.0 464.2,90.9 464.4,88.2 464.6,88.2 464.8,88.9 465.0,90.7 465.2,90.6 465.4,90.0 465.6,91.4 465.8,91.2 466.1,90.8 466.3,92.9 466.5,93.0 466.8,93.6 467.0,94.0 467.2,92.1 467.4,92.4 467.5,92.5 467.7,91.2 467.9,90.2 468.1,89.9 468.3,90.8 468.6,90.0 469.0,90.2 469.4,89.7 469.8,88.9 470.1,88.5 470.5,90.2 470.9,88.7 471.3,89.6 471.6,87.5 471.9,88.3 472.1,87.9 472.3,88.8 472.5,89.6 472.7,90.1 472.9,91.1 473.2,90.8 473.4,90.7 473.7,91.7 474.0,90.5 474.3,91.7 474.6,92.2 474.9,93.2 475.2,94.0 475.6,93.6 476.0,92.0 476.4,93.5 476.5,94.7 476.6,95.1 476.8,94.5 476.9,96.6 477.1,95.3 477.2,96.4 477.4,97.4 477.5,98.6 477.8,98.2 478.1,96.5 478.4,98.7 478.5,98.7 478.7,96.8 478.8,96.5 479.0,96.1 479.2,95.7 479.3,95.2 479.5,93.8 479.7,95.8 480.0,94.4 480.3,93.8 480.5,94.3 480.8,91.9 481.2,93.1 481.5,92.0 481.8,93.6 482.1,92.9 482.4,91.2 482.7,91.5 483.1,90.9 483.4,92.3 483.7,90.6 484.0,89.5 484.2,89.7 484.5,88.2 484.8,89.2 485.0,89.5 485.4,87.8 485.8,87.9 486.2,87.3 486.7,89.0 487.1,89.4 487.5,86.9 488.0,87.8 488.4,86.8 488.7,85.7 489.1,86.9 489.5,86.3 489.8,85.2 490.2,84.5 490.5,83.9 490.8,84.3 491.1,85.2 491.5,85.9 491.8,85.5 492.2,85.4 492.6,85.6 493.0,86.0 493.4,85.5 493.8,86.6 494.3,86.7 494.6,86.5 495.0,84.1 495.4,85.6 495.8,85.9 496.1,85.7 496.4,86.9 496.9,85.1 497.3,85.2 497.7,86.6 498.1,85.2 498.6,85.2 499.0,84.1 499.4,83.0 499.8,85.4 500.3,84.1 500.7,84.1 501.1,85.8 501.6,84.1 502.0,84.0 502.4,82.7 502.8,84.3 503.3,84.6 503.7,82.9 504.1,85.3 504.3,84.8 504.5,84.6 504.7,84.4 504.9,86.7 505.1,87.3 505.2,86.6 505.4,86.7 505.6,87.7 505.8,87.8 506.1,87.5 506.4,88.2 506.7,89.2 506.9,89.5 507.0,88.1 507.1,87.1 507.2,85.5 507.4,87.4 507.5,86.0 507.6,86.4 507.7,85.4 508.1,85.0 508.5,87.3 509.0,86.0 509.4,86.1 509.8,85.0 510.2,85.0 510.5,85.7 510.9,86.3 511.1,86.3 511.3,87.2 511.6,86.6 511.8,89.1 512.0,88.0 512.3,88.8 512.6,88.6 513.0,89.5 513.3,89.4 513.7,89.8 514.1,90.5 514.5,90.6 514.8,89.7 515.2,90.5 515.5,90.1 515.8,90.6 516.0,92.5 516.2,92.6 516.5,91.9 516.7,93.0 516.9,93.1 517.3,93.8 517.7,92.2 518.2,93.5 518.6,93.5 518.9,93.1 519.2,92.3 519.5,92.0 519.8,91.9 520.2,92.5 520.5,91.5 520.8,90.5 521.1,90.7 521.4,89.0 521.8,91.9 522.2,91.3 522.7,91.4 523.1,90.2 523.5,91.4 524.0,90.2 524.4,91.2 524.8,89.8 525.1,90.3 525.5,90.4 525.8,89.1 526.1,89.8 526.5,89.9 526.9,88.6 527.4,88.4 527.8,88.9 528.1,88.6 528.4,88.5 528.7,89.3 529.0,88.6 529.4,88.1 529.7,88.0 530.1,86.4 530.5,85.6 530.9,87.3 531.3,86.0 531.7,85.9 532.2,88.6 532.5,88.3 532.8,88.0 533.2,88.9 533.5,89.1 533.8,90.1 534.2,90.8 534.5,88.6 534.9,89.7 535.3,89.0 535.6,90.2 535.9,90.9 536.2,90.4 536.6,90.4 536.9,91.2 537.1,90.4 537.3,91.7 537.5,91.9 537.7,93.1 537.9,93.6 538.1,94.2 538.3,95.0 538.5,94.7 538.6,95.5 538.8,93.9 539.0,93.6 539.1,92.6 539.3,91.9 539.4,91.8 539.6,91.7 539.7,90.6 539.9,90.5 540.1,90.4 540.3,91.8 540.6,88.0 540.8,90.0 541.0,88.5 541.3,87.7 541.5,88.1 541.9,87.4 542.4,87.8 542.8,86.8 543.2,88.9 543.5,89.4 543.8,90.3 544.1,91.2 544.4,89.2 544.8,89.7 545.2,89.3 545.5,89.3 545.9,89.1 546.3,88.3 546.7,88.9 547.2,88.6 547.6,89.0 547.8,87.9 548.0,87.7 548.2,88.7 548.4,90.4 548.6,89.5 548.8,91.1 549.0,90.8 549.3,92.1 549.6,92.0 549.9,91.1 550.2,91.7 550.5,92.9 550.9,93.1 551.2,94.1 551.5,94.3 551.8,93.4 552.1,95.1 552.4,94.2 552.7,95.4 553.0,94.9 553.2,95.3 553.5,96.0 553.8,98.9 554.1,95.8 554.4,96.2 554.7,95.4 555.0,95.8 555.3,96.4 555.5,93.5 555.6,95.1 555.8,93.3 556.0,91.9 556.1,92.5 556.3,92.1 556.4,91.4 556.6,90.5 556.7,90.9 556.9,91.6 557.1,89.4 557.3,91.0 557.4,90.1 557.6,87.9 557.8,86.2 558.0,87.9 558.2,87.4 558.3,89.0 558.6,86.8 558.9,86.2 559.1,85.9 559.4,86.1 559.7,85.7 559.9,85.0 560.3,85.4 560.6,86.6 560.9,85.6 561.2,87.0 561.4,87.5 561.5,88.1 561.5,87.6 561.8,86.5 562.1,86.3 562.3,85.5 562.6,86.4 562.9,85.9 563.2,84.9 563.5,84.9 563.8,83.9 564.1,84.6 564.4,84.9 564.8,83.9 565.2,84.5 565.7,84.8 566.1,83.8 566.4,85.9 566.6,85.6 566.9,88.2 567.2,84.5 567.5,87.4 567.7,86.3 567.9,87.7 568.0,86.5 568.2,88.8 568.3,88.4 568.5,88.9 568.7,89.9 568.8,91.5 569.0,90.6 569.1,89.6 569.3,91.4 569.6,90.4 569.9,90.6 570.2,90.2 570.4,88.4 570.7,88.0 571.0,89.5 571.2,88.9 571.5,87.0 571.8,87.7 572.1,87.2 572.4,86.9 572.8,87.0 573.2,86.5 573.6,88.0 574.0,84.8 574.4,86.0 574.8,88.1 575.2,87.7 575.5,86.9 575.9,87.2 576.3,86.2 576.6,86.7 577.0,86.4 577.4,86.0 577.8,85.9 578.1,85.6 578.5,85.8 578.9,85.2 579.3,84.6 579.6,84.7 580.0,83.1 580.2,85.9 580.4,86.6 580.7,85.4 580.9,84.4 581.1,87.0 581.4,85.6 581.6,88.4 581.8,87.3 582.1,87.3 582.3,87.1 582.5,89.0 582.8,88.3 583.0,89.3 583.4,89.1 583.7,90.3 584.1,90.2 584.5,90.6 584.9,90.7 585.3,90.0 585.8,89.9 586.1,90.5 586.3,88.5 586.4,90.9 586.6,91.1 586.7,88.6 586.9,89.2 587.1,87.9 587.2,88.6 587.4,87.8 587.5,88.0 587.8,87.2 588.2,87.4 588.6,86.8 589.0,85.0 589.3,85.5 589.6,84.8 589.9,87.1 590.3,84.5 590.6,85.6 590.9,85.0 591.1,85.0 591.4,82.6 591.7,83.3 591.9,82.4 592.2,84.3 592.4,83.1 592.5,83.0 592.7,83.9 592.8,84.0 593.0,84.7 593.2,85.3 593.3,85.7 593.5,86.1 593.6,86.4 593.8,85.1 594.0,86.9 594.3,86.4 594.5,84.4 594.7,85.7 595.0,83.0 595.2,83.8 595.4,83.7 595.6,82.7 595.7,84.2 595.9,80.7 596.1,81.8 596.2,80.9 596.5,82.6 596.8,81.7 597.1,83.1 597.4,82.7 597.8,83.3 598.0,83.1 598.2,83.5 598.5,83.9 598.7,83.7 598.9,84.3 599.2,85.5 599.4,85.6 599.7,86.3 600.1,85.1 600.4,87.7 600.7,85.9 601.1,85.9 601.5,86.9 602.0,88.8 602.4,87.1 602.8,87.9 603.3,87.0 603.7,87.7 604.1,88.2 604.6,87.0 605.0,86.0 605.4,87.8 605.8,88.6 606.3,86.8 606.7,87.2 607.1,86.9 607.3,88.0 607.5,88.8 607.8,89.1 608.0,89.6 608.2,88.2 608.5,91.1 608.7,90.6 609.0,90.5 609.3,91.5 609.5,91.0 609.8,92.5 610.1,92.0 610.2,90.6 610.3,91.5 610.5,90.1 610.6,89.8 610.7,90.5 610.8,89.4 611.0,89.6 611.1,89.2 611.2,88.3 611.4,87.2 611.5,87.7 611.7,86.7 612.0,88.1 612.4,87.5 612.8,86.3 613.2,88.1 613.5,86.9 613.9,87.7 614.3,87.0 614.7,86.5 615.1,87.4 615.5,87.8 615.9,85.9 616.3,88.3 616.6,86.9 617.0,88.3 617.3,88.1 617.6,88.4 617.9,87.1 618.2,89.3 618.4,88.1 618.7,89.9 619.0,89.8 619.2,89.9 619.5,89.4 619.7,89.0 619.9,87.9 620.1,88.2 620.3,86.5 620.5,87.5 620.7,87.5 620.9,87.0 621.3,85.8 621.7,85.8 622.0,87.5 622.3,87.2 622.6,86.5 622.9,88.8 623.3,87.7 623.7,88.1 624.0,88.4 624.4,86.9 624.8,86.1 625.1,85.4 625.4,85.9 625.7,85.2 626.0,86.3 626.3,85.9 626.7,86.1 627.0,84.2 627.3,85.0 627.6,84.1 627.9,83.6 628.2,83.4 628.4,82.1 628.7,83.2 629.0,82.1 629.2,81.1 629.4,83.4 629.5,83.2 629.7,82.7 629.9,84.3 630.0,85.0 630.2,84.2 630.3,83.0 630.5,84.3 630.6,86.6 630.8,85.4 631.1,85.3 631.3,84.9 631.5,82.9 631.8,84.0 632.0,83.7 632.2,84.7 632.6,82.7 633.0,83.9 633.3,83.6 633.7,83.8 634.0,83.1 634.4,83.7 634.7,84.1 635.0,82.8 635.3,82.1 635.7,82.6 636.2,82.8 636.6,82.6 637.0,81.9 637.4,82.4 637.9,81.2 638.3,83.0 638.7,83.8 639.2,81.9 639.6,83.7 640.0,82.2 640.3,83.3 640.6,83.0 640.8,84.8 641.1,85.6 641.4,86.0 641.5,83.7 641.7,85.5 641.8,86.2 641.9,85.6 642.0,88.1 642.2,85.9 642.3,89.5 642.4,88.5 642.7,89.0 643.1,87.7 643.5,88.8 644.0,89.3 644.3,88.9 644.7,90.2 645.1,88.1 645.5,87.7 645.8,89.0 646.0,89.1 646.3,89.7 646.6,90.6 646.8,89.6 647.1,90.0 647.4,90.3 647.7,90.2 648.1,90.8 648.4,90.3 648.7,91.4 649.1,90.2 649.5,90.3 649.8,90.0 650.2,90.6 650.5,90.1 650.7,90.9 651.0,88.6 651.3,90.1 651.6,88.5 651.9,86.8 652.3,88.5 652.8,87.1 653.2,90.1 653.5,89.4 653.7,87.6 654.0,87.6 654.3,87.5 654.5,86.6 654.8,87.7 655.1,86.6 655.5,86.8 655.8,85.7 656.1,86.0 656.5,84.6 656.9,85.7 657.3,84.9 657.7,84.6 658.0,82.3 658.3,84.8 658.6,82.8 658.9,83.8 659.1,82.9 659.4,82.9 659.7,81.9 660.0,84.5 660.4,84.1 660.7,83.9 661.0,83.2 661.2,83.0 661.4,83.9 661.6,82.6 661.8,82.9 662.0,84.1 662.2,82.1 662.4,81.8 662.7,79.4 663.1,82.0 663.4,81.6 663.8,82.4 664.1,82.1 664.2,82.4 664.4,83.2 664.6,82.8 664.7,84.4 664.9,85.2 665.1,85.3 665.5,84.1 665.8,83.6 666.1,83.8 666.4,83.9 666.8,83.0 667.2,84.1 667.5,84.5 667.9,83.5 668.3,84.2 668.7,84.4 669.0,86.3 669.4,85.1 669.7,85.7 670.0,85.1 670.3,84.2 670.5,85.1 670.8,83.9 671.1,82.4 671.3,84.4 671.6,83.9 671.9,83.9 672.2,84.1 672.4,85.8 672.7,86.6 672.8,86.7 672.9,86.8 673.0,86.9 673.1,86.6 673.2,88.2 673.3,88.3 673.4,88.4 673.5,88.2 673.6,89.8 674.0,88.7 674.4,88.8 674.7,89.3 675.1,88.7 675.4,89.2 675.7,87.7 675.9,86.4 676.2,86.8 676.5,87.5 676.7,86.2 676.9,85.6 677.1,86.3 677.2,84.5 677.4,85.3 677.6,85.5 677.7,83.3" fill="none" stroke="#ff00ff" stroke-width="3.0" stroke-linejoin="round" stroke-linecap="butt"/>
<polyline points="395.6,255.5 395.6,254.5 395.6,253.8 395.6,254.8 395.7,253.1 395.7,252.9 395.7,253.2 395.7,254.0 395.7,250.8 395.7,251.9 395.7,252.5 395.7,249.6 395.8,250.7 395.8,250.0 395.8,250.0 395.8,247.8 395.8,247.4 395.8,247.1 395.8,249.5 395.9,246.5 395.9,246.0 395.9,245.2 395.9,245.7 395.9,245.8 395.9,245.8 395.9,243.3 395.9,245.4 396.0,245.0 396.0,242.8 396.0,243.1 396.0,242.1 396.0,242.0 396.0,241.5 396.0,241.3 396.1,240.4 396.1,241.0 396.1,238.5 396.1,239.9 396.1,239.3 396.1,237.9 396.1,236.9 396.1,236.0 396.2,235.6 396.2,236.1 396.2,235.3 396.2,235.5 396.2,235.2 396.2,233.1 396.2,233.0 396.3,231.9 396.3,231.7 396.3,233.6 396.3,232.9 396.3,231.4 396.3,230.9 396.3,230.4 396.3,229.8 396.4,230.7 396.4,230.9 396.4,228.6 396.4,227.8 396.4,227.7 396.4,227.5 396.4,228.2 396.4,226.6 396.5,225.4 396.5,225.6 396.5,225.5 396.5,226.9 396.5,225.6 396.5,223.6 396.5,224.6 396.6,224.1 396.6,223.3 396.6,222.3 396.6,222.8 396.6,220.4 396.6,221.2 396.6,221.3 396.6,220.0 396.7,218.8 396.7,219.7 396.7,219.5 396.7,218.1 396.7,216.5 396.7,217.6 396.7,216.0 396.7,216.0 396.8,214.8 396.8,215.7 396.8,214.7 396.8,215.3 396.8,213.3 396.8,213.9 396.8,213.2 396.8,213.3 396.9,212.8 396.9,211.1 396.9,211.9 396.9,211.4 396.9,210.1 396.9,211.5 396.9,209.6 396.9,210.4 397.0,208.4 397.0,209.7 397.0,208.4 397.0,207.4 397.0,206.5 397.0,205.6 397.0,204.7 397.0,204.6 397.1,204.5 397.1,205.5 397.1,203.9 397.1,204.3 397.1,203.5 397.1,204.1 397.1,202.1 397.1,203.0 397.2,200.3 397.2,200.2 397.2,200.4 397.2,200.4 397.2,199.7 397.3,198.5 397.3,198.9 397.3,198.9 397.3,197.6 397.4,197.3 397.4,196.2 397.4,197.3 397.5,196.1 397.5,196.6 397.5,194.7 397.6,195.3 397.6,193.8 397.6,192.5 397.7,193.7 397.7,192.6 397.7,192.8 397.7,190.7 397.8,192.0 397.8,191.4 397.8,191.9 397.9,190.6 397.9,189.8 397.9,189.4 398.0,188.5 398.0,188.8 398.0,188.2 398.1,188.3 398.1,186.1 398.2,186.8 398.2,187.5 398.3,186.4 398.4,185.2 398.5,184.8 398.5,184.0 398.6,186.4 398.6,183.7 398.6,183.0 398.7,183.7 398.7,181.1 398.8,182.9 398.8,181.0 398.8,181.1 398.9,180.7 398.9,180.4 398.9,179.7 399.0,178.5 399.0,179.0 399.0,178.2 399.1,176.4 399.1,178.0 399.2,176.8 399.2,176.1 399.2,174.4 399.3,175.2 399.3,176.1 399.3,173.7 399.4,174.6 399.4,174.2 399.4,174.5 399.5,173.0 399.5,171.7 399.5,173.3 399.6,170.8 399.6,170.9 399.7,169.8 399.7,170.7 399.7,169.2 399.8,168.7 399.8,169.1 399.9,168.2 399.9,167.2 399.9,167.9 400.0,166.5 400.0,165.5 400.1,166.8 400.1,165.6 400.1,166.5 400.2,164.1 400.2,164.0 400.3,164.0 400.3,163.2 400.4,162.6 400.4,161.9 400.4,160.6 400.5,162.5 400.5,161.0 400.6,162.0 400.6,160.5 400.6,160.0 400.7,159.3 400.7,159.2 400.8,157.6 400.8,157.0 400.9,158.0 400.9,156.6 400.9,157.5 401.0,155.9 401.1,157.3 401.2,155.1 401.3,154.6 401.4,153.2 401.5,152.4 401.6,153.8 401.7,151.6 401.8,153.6 401.9,152.7 402.0,152.1 402.1,151.4 402.3,153.7 402.4,150.6 402.5,148.5 402.6,149.3 402.7,150.5 402.8,149.6 402.9,148.1 403.0,147.5 403.1,148.0 403.2,146.4 403.3,146.8 403.4,145.5 403.5,145.2 403.5,145.6 403.6,146.2 403.6,143.0 403.7,142.7 403.7,142.3 403.7,143.4 403.8,143.7 403.8,141.2 403.9,142.2 403.9,142.8 404.0,140.7 404.0,141.2 404.1,140.8 404.1,141.1 404.2,140.2 404.2,137.5 404.2,138.6 404.3,138.0 404.3,137.8 404.4,136.7 404.4,135.0 404.5,136.1 404.5,134.7 404.6,134.9 404.6,134.2 404.7,135.2 404.8,134.3 404.8,132.9 404.9,132.4 404.9,131.4 405.0,132.0 405.1,130.7 405.1,131.4 405.2,131.2 405.2,130.6 405.3,129.1 405.4,129.3 405.5,130.2 405.6,128.6 405.7,129.0 405.8,126.6 405.9,126.3 406.0,126.8 406.1,126.8 406.2,125.9 406.3,126.8 406.4,124.8 406.6,125.5 406.7,123.7 406.8,122.8 406.9,122.5 407.0,122.7 407.1,122.4 407.2,123.2 407.3,122.2 407.4,120.8 407.6,120.2 407.7,121.3 407.9,120.4 408.0,118.6 408.2,119.7 408.3,118.8 408.4,119.3 408.6,116.9 408.8,116.2 409.0,116.0 409.2,116.8 409.4,114.5 409.6,115.4 409.8,114.9 409.9,115.0 410.0,114.6 410.2,113.5 410.3,112.7 410.5,114.1 410.6,112.4 410.7,113.1 410.9,111.1 411.0,111.5 411.2,110.1 411.3,110.4 411.5,111.5 411.6,109.8 411.8,109.2 411.9,107.7 412.1,108.7 412.2,108.1 412.4,108.8 412.5,106.1 412.7,106.5 412.8,104.8 412.9,105.9 413.0,105.2 413.1,105.7 413.3,103.2 413.4,104.0 413.5,103.9 413.7,103.2 413.9,101.6 414.1,101.9 414.4,102.1 414.6,102.3 414.8,100.2 415.1,101.5 415.3,101.0 415.8,98.8 416.2,101.2 416.7,101.3 417.1,100.4 417.6,100.6 418.0,99.7 418.4,99.7 418.8,100.3 419.2,100.2 419.6,98.5 419.9,98.6 420.2,97.8 420.5,99.0 420.8,98.6 421.2,97.8 421.5,97.7 421.8,96.0 422.1,96.2 422.4,95.6 422.8,96.0 423.1,96.5 423.4,97.2 423.7,95.1 424.0,95.0 424.3,94.7 424.6,92.7 424.9,94.6 425.2,93.0 425.5,93.9 425.8,92.9 426.1,93.5 426.5,92.8 426.8,93.3 427.1,92.4 427.4,91.1 427.7,89.1 428.1,90.3 428.5,90.8 428.9,90.3 429.2,89.2 429.6,89.5 430.0,89.7 430.2,88.2 430.3,89.8 430.5,88.1 430.6,88.2 430.7,86.7 430.9,86.5 431.0,86.7 431.1,86.1 431.3,85.9 431.4,86.5 431.5,85.1 431.8,84.9 432.1,85.6 432.5,84.6 432.8,85.4 433.1,86.1 433.3,86.7 433.6,87.7 433.8,87.6 434.0,87.4 434.3,89.0 434.5,88.6 434.7,89.1 434.9,88.1 435.2,88.4 435.4,87.9 435.6,87.4 435.9,86.6 436.1,86.0 436.3,86.5 436.5,84.8 436.6,85.0 436.8,83.7 437.0,83.6 437.2,84.7 437.3,84.6 437.5,83.3 437.7,83.3 438.0,84.0 438.3,82.6 438.5,84.1 438.8,83.1 439.1,86.0 439.4,86.2 439.7,84.9 440.1,86.0 440.4,85.4 440.7,87.5 441.0,84.7 441.3,87.5 441.5,87.9 441.8,87.3 442.0,88.0 442.3,86.8 442.5,86.6 442.7,87.0 442.9,86.4 443.1,86.9 443.3,85.7 443.5,85.3 443.8,84.2 444.0,83.0 444.3,83.5 444.4,84.1 444.6,84.4 444.7,85.2 444.8,85.7 445.0,85.5 445.2,86.3 445.4,84.7 445.6,84.5 445.9,84.9 446.1,84.6 446.4,84.1 446.7,83.7 447.0,83.4 447.4,83.3 447.7,82.2 448.1,82.9 448.5,82.2 448.9,82.6 449.3,81.2 449.7,80.5 449.8,82.5 449.9,83.1 450.1,83.8 450.2,85.0 450.3,85.2 450.5,85.3 450.6,85.6 450.7,86.3 450.9,87.8 451.0,86.6 451.2,88.0 451.4,87.6 451.6,86.6 451.7,88.9 451.9,89.9 452.3,88.0 452.6,89.6 453.0,88.0 453.3,88.1 453.5,86.2 453.7,87.8 453.9,85.8 454.1,86.7 454.3,86.2 454.5,85.8 454.8,84.0 455.1,84.2 455.3,84.5 455.6,82.9 455.8,83.5 456.0,83.3 456.2,83.5 456.4,82.9 456.6,82.0 456.8,81.5 457.0,81.1 457.3,81.6 457.5,80.9 457.7,79.4 458.0,80.3 458.3,79.9 458.7,80.1 458.9,76.7 459.0,79.0 459.0,77.2 459.2,77.8 459.3,76.6 459.5,76.8 459.7,76.9 459.9,76.0 460.1,74.3 460.2,74.3 460.4,74.4 460.6,74.9 460.9,72.9 461.1,73.8 461.4,72.9 461.7,72.7 461.9,72.2 462.2,72.7 462.6,72.8 463.0,72.0 463.3,74.0 463.7,72.3 464.1,72.0 464.5,71.2 464.8,72.7 465.2,72.3 465.6,71.6 465.9,72.2 466.2,70.5 466.5,70.6 466.8,70.7 467.1,71.0 467.4,70.3 467.7,70.5 468.0,69.0 468.2,68.4 468.5,68.8 468.8,67.9 468.9,69.5 469.1,69.2 469.3,68.3 469.5,67.8 469.6,69.6 469.8,72.7 470.0,71.2 470.2,71.5 470.3,70.3 470.7,71.7 471.0,72.6 471.3,73.5 471.6,73.2 471.9,72.6 472.3,73.6 472.7,73.9 473.1,74.0 473.4,74.3 473.8,74.8 474.3,74.1 474.7,73.3 475.1,75.6 475.3,74.4 475.6,75.4 475.9,75.9 476.1,75.5 476.4,77.2 476.6,76.6 476.8,78.4 477.0,77.5 477.2,75.2 477.4,76.4 477.6,79.4 477.8,77.6 478.1,79.7 478.5,78.8 478.9,80.1 479.3,80.2 479.6,79.0 479.8,77.8 480.0,77.9 480.2,77.8 480.3,79.4 480.5,77.6 480.7,76.7 480.9,75.7 481.0,75.7 481.3,75.9 481.5,75.7 481.7,73.7 482.0,74.1 482.2,74.0 482.4,73.3 482.7,72.3 483.1,72.8 483.4,74.9 483.8,75.3 484.2,76.0 484.5,74.6 484.8,74.6 485.1,75.4 485.5,75.3 485.7,76.5 486.0,76.0 486.2,74.8 486.4,74.1 486.7,74.5 486.9,73.8 487.1,73.0 487.3,73.8 487.5,73.4 487.7,71.2 487.9,72.9 488.1,70.8 488.3,71.0 488.5,71.7 488.8,70.9 489.0,71.0 489.2,70.3 489.4,68.8 489.7,68.6 489.9,69.7 490.1,67.8 490.4,68.1 490.7,67.3 490.9,69.7 491.2,69.0 491.5,69.0 491.7,69.5 492.0,70.0 492.2,71.5 492.4,71.0 492.7,71.5 492.9,71.7 493.1,72.3 493.4,72.6 493.6,71.9 493.9,74.1 494.2,74.0 494.5,72.6 494.7,74.4 494.9,72.9 495.0,73.7 495.1,75.7 495.2,77.2 495.3,76.9 495.5,79.1 495.6,77.1 495.7,78.1 495.8,78.3 495.9,79.7 496.0,77.7 496.2,78.3 496.3,76.4 496.5,79.2 496.6,77.3 496.8,74.7 496.9,74.5 497.0,74.3 497.2,74.8 497.3,75.5 497.5,74.2 497.6,74.0 497.8,73.8 497.9,73.8 498.2,73.4 498.5,72.3 498.8,71.0 499.1,71.5 499.5,71.9 499.7,70.8 500.0,72.3 500.3,73.0 500.5,72.7 500.8,73.0 501.1,72.0 501.2,71.9 501.4,72.5 501.6,71.1 501.8,70.6 501.9,70.5 502.1,70.0 502.3,69.5 502.5,69.9 502.8,69.4 503.2,69.0 503.5,70.4 503.9,68.8 504.3,68.7 504.7,69.6 505.0,70.1 505.4,69.7 505.8,68.1 506.1,68.4 506.5,68.5 506.9,68.4 507.2,68.3 507.4,67.4 507.7,67.0 507.9,67.0 508.1,67.7 508.4,66.4 508.6,65.0 508.9,67.0 509.3,66.0 509.7,66.5 510.1,64.2 510.3,65.5 510.5,64.1 510.7,63.7 510.9,63.8 511.1,62.5 511.3,62.9 511.5,63.7 511.7,63.4 512.1,61.8 512.5,62.6 512.9,62.6 513.2,63.1 513.7,62.8 514.1,63.1 514.5,63.5 514.9,62.4 515.3,63.6 515.7,64.2 516.1,62.9 516.4,63.9 516.9,64.5 517.3,65.6 517.7,65.3 518.1,65.5 518.4,66.8 518.7,65.1 519.0,66.0 519.3,65.8 519.7,67.8 520.0,67.7 520.3,68.1 520.6,67.6 520.9,69.5 521.1,67.0 521.4,69.6 521.6,69.3 522.1,70.2 522.5,68.4 522.9,69.4 523.3,70.7 523.6,69.4 523.9,69.1 524.2,67.8 524.5,69.0 524.7,66.8 524.9,67.5 525.1,66.7 525.3,66.7 525.5,64.8 525.6,65.9 525.8,66.3 526.0,63.5 526.2,65.7 526.5,63.3 526.8,63.6 527.1,63.1 527.5,64.0 527.8,61.9 528.2,63.2 528.5,63.0 528.9,61.8 529.3,61.1 529.6,61.7 529.9,59.8 530.2,60.3 530.5,59.7 530.8,61.1 531.1,61.7 531.3,60.4 531.5,60.5 531.8,63.0 532.0,64.1 532.2,61.7 532.6,63.5 533.0,62.8 533.5,63.1 533.9,62.9 534.3,63.6 534.6,63.5 535.0,61.0 535.4,64.2 535.7,63.2 536.0,64.3 536.3,64.2 536.6,65.8 537.0,64.5 537.4,64.3 537.8,63.8 538.3,64.3 538.7,64.3 539.0,64.3 539.4,65.1 539.8,65.2 540.2,67.1 540.5,65.5 540.9,67.6 541.3,65.4 541.6,66.4 542.0,67.4 542.3,65.2 542.6,66.8 542.9,68.7 543.2,67.6 543.5,68.1 543.9,69.1 544.2,68.6 544.5,70.4 544.8,70.7 545.0,69.6 545.3,70.4 545.6,71.4 545.9,71.5 546.1,72.3 546.4,71.7 546.7,70.4 546.9,70.1 547.2,71.0 547.5,69.4 547.7,69.9 547.8,70.1 548.0,68.3 548.2,67.6 548.3,67.6 548.5,66.4 548.6,66.1 548.8,65.7 548.9,66.5 549.1,65.7 549.4,65.2 549.7,64.2 550.0,64.0 550.4,64.3 550.7,63.5 550.9,63.6 551.2,65.1 551.5,62.8 551.7,64.3 552.0,62.1 552.3,62.0 552.8,61.9 553.2,61.2 553.6,60.6 554.0,61.5 554.4,61.6 554.8,62.6 555.1,61.7 555.5,62.1 556.0,61.7 556.4,63.2 556.8,62.1 557.3,61.2 557.7,62.4 558.1,60.6 558.5,61.6 559.0,61.0 559.4,61.8 559.8,61.2 560.2,60.6 560.7,61.4 561.1,62.3 561.5,59.7 561.9,60.0 562.3,60.3 562.6,62.5 563.0,60.9 563.4,61.1 563.9,58.9 564.3,60.7 564.7,60.5 565.1,60.4 565.4,61.4 565.8,61.2 566.2,60.9 566.6,60.6 566.9,60.1 567.3,60.0 567.7,60.3 568.1,60.9 568.6,60.2 569.0,61.5 569.3,60.9 569.6,62.1 569.8,60.1 570.1,61.2 570.4,62.2 570.6,63.5 571.0,61.3 571.3,62.0 571.6,61.8 571.9,60.7 572.3,60.1 572.7,60.4 573.1,60.9 573.6,61.0 574.0,59.3 574.3,59.0 574.7,59.1 575.1,59.3 575.4,58.4 575.8,58.6 576.2,59.6 576.6,59.6 576.9,58.0 577.2,58.2 577.5,57.0 577.9,57.5 578.2,57.4 578.4,56.9 578.7,55.9 578.9,55.0 579.1,54.9 579.4,54.7 579.6,54.2 579.8,54.1 580.1,54.7 580.3,52.8 580.6,52.8 580.8,53.8 580.9,52.6 581.1,51.7 581.2,55.1 581.3,53.5 581.4,55.9 581.6,55.3 581.7,56.6 581.8,55.9 582.0,56.7 582.2,56.2 582.5,58.8 582.7,59.2 582.9,58.5 583.2,58.6 583.4,58.7 583.8,58.5 584.2,59.2 584.6,58.6 584.9,59.0 585.2,59.8 585.6,58.9 585.9,57.8 586.2,59.3 586.5,57.8 586.8,57.1 587.1,58.9 587.3,58.7 587.6,60.2 587.9,60.7 588.1,60.5 588.4,60.8 588.6,60.1 588.8,61.3 589.1,61.1 589.3,61.8 589.5,62.4 589.7,62.6 589.9,63.0 590.1,64.0 590.3,64.5 590.4,64.8 590.6,66.1 590.8,65.7 591.0,65.1 591.2,66.6 591.5,66.1 591.9,66.0 592.3,65.8 592.7,65.3 593.1,65.9 593.5,64.3 593.9,64.2 594.3,65.3 594.7,65.7 595.1,65.4 595.5,64.6 595.9,64.1 596.3,64.9 596.7,63.9 597.1,64.2 597.5,65.6 597.9,65.7 598.3,66.2 598.7,64.9 598.9,66.0 599.1,65.2 599.3,67.4 599.4,68.1 599.6,66.6 599.8,67.9 600.0,68.9 600.2,67.8 600.3,68.7 600.7,68.4 601.1,69.0 601.4,69.0 601.8,67.2 602.1,66.3 602.4,67.1 602.6,67.3 602.9,65.5 603.2,66.3 603.5,65.7 603.9,65.4 604.2,64.4 604.6,66.0 605.0,64.7 605.4,65.3 605.7,64.4 606.1,63.4 606.5,65.0 606.9,62.3 607.2,63.4 607.6,63.8 608.0,62.3 608.2,63.1 608.4,61.0 608.6,60.0 608.8,62.0 609.0,60.2 609.2,61.0 609.4,59.5 609.7,58.5 610.0,58.9 610.4,59.6 610.8,57.9 611.1,59.4 611.5,58.6 611.8,59.1 612.1,60.2 612.4,60.4 612.8,60.1 613.2,60.9 613.6,60.2 614.1,61.7 614.4,61.8 614.7,62.4 615.0,61.7 615.4,62.1 615.7,61.9 615.9,61.6 616.2,60.8 616.5,61.7 616.8,61.4 617.0,60.1 617.3,61.3 617.4,59.4 617.6,58.6 617.8,58.0 618.0,58.5 618.1,58.2 618.3,56.9 618.5,56.5 618.7,55.7 618.9,56.2 619.2,55.5 619.5,54.8 619.7,56.6 620.0,54.7 620.3,54.9 620.7,55.0 621.0,55.3 621.4,53.5 621.8,54.0 622.0,54.0 622.2,54.4 622.4,54.7 622.7,55.4 622.9,55.9 623.2,56.0 623.6,57.3 624.0,57.5 624.3,56.5 624.7,56.0 625.0,57.5 625.3,57.5 625.6,58.2 625.9,58.5 626.3,58.4 626.7,59.3 627.1,60.0 627.4,59.3 627.9,60.6 628.3,60.0 628.7,59.0 629.1,58.4 629.6,59.2 630.0,58.1 630.4,58.0 630.9,57.7 631.3,57.4 631.7,58.9 632.1,59.0 632.5,59.5 632.9,58.2 633.2,57.9 633.6,58.0 634.1,57.4 634.5,57.3 634.9,58.5 635.3,58.2 635.8,58.6 636.2,56.4 636.6,54.3 637.0,55.8 637.3,56.0 637.7,54.6 638.1,56.3 638.5,54.3 638.8,56.4 639.2,55.8 639.6,54.7 640.0,55.6 640.3,55.4 640.7,55.9 641.1,56.1 641.6,56.6 642.0,55.4 642.4,56.3 642.8,55.3 643.3,56.9 643.7,57.0 644.0,56.5 644.4,57.2 644.7,54.6 645.0,54.4 645.3,56.4 645.7,55.1 646.1,54.7 646.4,53.9 646.8,54.0 647.2,53.8 647.6,54.9 647.9,55.3 648.3,52.0 648.6,53.1 648.8,52.1 649.1,52.6 649.4,52.0 649.6,51.0 649.9,50.9 650.2,51.8 650.5,52.4 650.7,53.3 651.0,53.1 651.3,55.0 651.5,54.3 651.7,53.8 652.0,53.6 652.2,55.5 652.4,56.2 652.6,53.9 653.0,55.5 653.4,55.6 653.7,55.2 654.1,57.4 654.4,57.2 654.7,56.4 655.0,54.8 655.2,55.9 655.5,56.9 655.8,57.1 656.2,57.1 656.5,58.9 656.9,57.4 657.3,58.0 657.7,56.3 658.2,58.0 658.6,57.8 659.0,56.6 659.4,57.8 659.9,59.7 660.3,59.8 660.7,58.2 661.0,57.9 661.4,57.9 661.8,56.6 662.2,56.9 662.6,58.1 663.1,57.6 663.5,56.7 663.9,57.0 664.2,56.1 664.6,54.3 665.0,54.9 665.3,54.1 665.6,54.2 665.9,53.0 666.2,54.0 666.6,53.4 666.9,54.0 667.2,54.7 667.5,53.6 667.8,52.9 668.2,52.8 668.6,52.8 669.1,53.0 669.5,52.7 669.9,54.1 670.4,53.2 670.8,53.0 671.2,51.6 671.5,52.5 671.8,52.1 672.1,51.9 672.4,50.3 672.7,51.3 672.9,52.2 673.1,52.0 673.4,53.9 673.6,53.9 673.8,55.6 674.1,54.6 674.4,54.1 674.7,54.1 675.0,54.6 675.4,55.4 675.7,56.2 676.1,56.1 676.4,55.4 676.8,57.0 677.2,56.0 677.6,57.7 678.0,57.1" fill="none" stroke="#0000ff" stroke-width="3.0" stroke-linejoin="round" stroke-linecap="butt"/>
<polyline points="395.7,255.5 395.7,255.2 395.7,255.3 395.7,254.0 395.8,252.8 395.8,253.0 395.8,252.9 395.8,251.3 395.8,252.7 395.8,252.3 395.8,249.8 395.8,250.5 395.9,250.5 395.9,249.4 395.9,249.6 395.9,247.7 395.9,248.9 395.9,248.6 395.9,247.7 396.0,248.1 396.0,247.1 396.0,246.8 396.0,244.1 396.0,245.2 396.0,246.4 396.0,243.9 396.0,242.3 396.1,242.8 396.1,242.6 396.1,241.5 396.1,242.0 396.1,241.6 396.1,241.6 396.1,240.5 396.2,239.4 396.2,240.3 396.2,238.5 396.2,238.6 396.2,238.8 396.2,238.0 396.2,237.5 396.2,237.3 396.3,236.9 396.3,236.6 396.3,235.5 396.3,234.6 396.3,234.7 396.3,234.4 396.3,235.1 396.4,233.1 396.4,233.2 396.4,231.8 396.4,232.6 396.4,230.7 396.4,232.9 396.4,231.4 396.4,229.8 396.5,228.6 396.5,228.9 396.5,229.0 396.5,229.9 396.5,228.0 396.5,226.2 396.5,226.3 396.5,227.4 396.6,226.0 396.6,225.7 396.6,223.7 396.6,225.1 396.6,225.4 396.6,223.4 396.6,223.6 396.7,221.9 396.7,222.9 396.7,221.6 396.7,221.5 396.7,221.1 396.7,222.0 396.7,220.5 396.7,220.4 396.8,218.1 396.8,219.5 396.8,219.2 396.8,219.0 396.8,217.8 396.8,217.1 396.8,215.5 396.8,216.3 396.9,217.1 396.9,215.6 396.9,214.6 396.9,214.7 396.9,214.2 396.9,213.6 396.9,214.1 396.9,211.9 397.0,211.1 397.0,211.6 397.0,211.1 397.0,210.3 397.0,210.6 397.0,210.3 397.0,209.1 397.0,209.7 397.1,209.5 397.1,207.4 397.1,207.9 397.1,206.1 397.1,207.2 397.1,206.5 397.1,207.8 397.1,205.1 397.2,204.5 397.2,204.3 397.2,204.4 397.2,202.4 397.2,204.2 397.2,203.3 397.2,203.1 397.2,203.2 397.3,203.1 397.3,201.6 397.3,199.8 397.3,198.5 397.3,200.1 397.4,199.3 397.4,198.6 397.4,198.3 397.5,197.9 397.5,197.7 397.5,196.2 397.6,195.5 397.6,195.4 397.6,195.9 397.7,196.7 397.7,193.6 397.7,193.3 397.8,193.3 397.8,194.3 397.8,194.6 397.9,194.4 397.9,191.5 397.9,191.2 398.0,189.9 398.0,189.4 398.0,191.4 398.1,190.1 398.1,188.0 398.2,190.0 398.2,188.9 398.2,187.9 398.3,188.0 398.3,188.0 398.3,187.3 398.4,186.6 398.4,184.3 398.4,184.0 398.5,184.1 398.5,183.6 398.5,182.9 398.6,182.7 398.6,183.3 398.7,183.0 398.7,183.2 398.7,181.5 398.8,182.1 398.8,181.6 398.8,181.7 398.9,179.7 398.9,179.1 398.9,178.6 399.0,177.7 399.0,178.5 399.1,177.8 399.1,178.0 399.1,178.1 399.2,177.8 399.2,175.9 399.2,175.7 399.3,173.1 399.3,174.5 399.3,174.0 399.4,174.3 399.4,173.2 399.5,173.1 399.5,172.8 399.5,171.2 399.6,173.1 399.6,172.0 399.7,170.9 399.7,168.8 399.8,169.4 399.8,169.2 399.8,166.9 399.9,168.1 399.9,167.8 400.0,168.9 400.0,167.1 400.1,166.7 400.1,165.9 400.2,165.9 400.2,164.8 400.2,164.1 400.3,165.5 400.3,165.3 400.4,163.2 400.4,162.2 400.5,160.8 400.5,163.3 400.5,160.0 400.6,160.8 400.6,162.0 400.7,160.7 400.7,160.1 400.8,158.7 400.8,158.5 400.8,158.1 400.9,158.1 400.9,156.9 401.0,157.0 401.0,158.3 401.1,155.5 401.1,154.6 401.1,156.0 401.2,154.4 401.2,153.7 401.3,154.4 401.3,153.3 401.4,154.2 401.4,153.8 401.4,152.6 401.5,152.9 401.5,149.8 401.6,151.3 401.6,151.0 401.7,149.7 401.7,149.4 401.8,149.6 401.8,149.1 401.9,148.2 401.9,148.5 402.0,146.1 402.1,146.9 402.1,146.6 402.2,145.2 402.2,145.7 402.3,144.0 402.3,143.6 402.4,144.5 402.4,141.9 402.5,142.8 402.5,143.4 402.6,143.3 402.6,141.4 402.7,140.8 402.7,139.6 402.8,139.7 402.8,139.5 402.9,138.1 402.9,139.5 403.0,139.7 403.0,139.6 403.0,138.3 403.0,135.7 403.1,136.9 403.1,136.8 403.1,135.6 403.1,136.3 403.1,135.3 403.2,133.8 403.2,135.0 403.2,135.0 403.2,133.6 403.2,133.5 403.2,132.8 403.3,131.7 403.3,131.1 403.3,131.5 403.3,130.5 403.3,129.5 403.4,128.8 403.4,129.7 403.5,128.1 403.6,128.1 403.6,125.8 403.7,128.2 403.8,126.4 403.8,129.1 403.9,126.9 404.0,125.4 404.1,124.3 404.2,125.2 404.3,125.0 404.4,124.4 404.4,124.7 404.5,124.2 404.6,123.4 404.7,122.7 404.8,119.9 404.9,121.5 405.0,121.0 405.1,120.2 405.2,120.7 405.2,119.8 405.3,119.1 405.4,117.6 405.5,118.4 405.6,117.8 405.7,117.6 405.8,117.1 405.9,117.3 405.9,114.5 406.0,114.5 406.1,115.8 406.2,114.4 406.3,113.3 406.4,114.0 406.5,112.4 406.6,113.8 406.7,112.8 406.7,112.3 406.8,111.2 406.9,111.8 407.0,110.4 407.1,110.5 407.2,110.0 407.3,109.6 407.4,109.9 407.5,108.3 407.6,108.0 407.7,106.0 407.9,108.0 408.0,105.8 408.1,106.6 408.2,106.0 408.3,104.5 408.4,105.0 408.5,104.6 408.6,105.2 408.7,103.6 408.8,101.8 408.9,103.1 409.1,102.1 409.2,102.0 409.3,101.5 409.4,100.7 409.6,101.1 409.7,101.2 409.8,100.7 410.0,100.3 410.1,99.5 410.3,99.5 410.4,98.1 410.5,98.3 410.7,96.7 410.8,97.1 411.0,96.4 411.1,95.5 411.3,95.0 411.4,96.0 411.5,94.7 411.5,94.1 411.5,93.9 411.5,93.0 411.5,91.8 411.5,92.4 411.8,92.2 412.0,93.4 412.3,91.0 412.5,89.8 412.7,90.5 413.0,90.4 413.4,90.5 413.7,88.3 414.1,90.7 414.5,89.4 414.8,87.9 415.2,90.6 415.5,88.1 415.8,86.7 416.1,87.8 416.3,89.0 416.6,86.3 416.9,87.0 417.2,86.5 417.4,85.9 417.7,85.3 418.0,85.2 418.3,85.7 418.7,85.6 419.0,84.6 419.3,83.1 419.6,83.8 419.9,83.9 420.3,83.5 420.6,82.6 420.9,82.9 421.2,81.5 421.5,80.4 421.8,81.7 422.2,80.5 422.5,79.6 423.0,81.9 423.4,81.8 423.8,83.0 424.2,81.9 424.6,81.3 424.8,82.3 425.0,81.7 425.2,84.0 425.3,81.8 425.5,81.0 425.6,81.3 425.8,80.2 425.9,81.0 426.1,79.7 426.3,79.5 426.4,78.2 426.6,77.4 426.8,76.5 427.1,77.7 427.3,77.4 427.5,78.0 427.8,75.8 428.0,76.0 428.2,76.5 428.5,76.4 428.8,76.8 429.1,76.0 429.3,78.3 429.6,77.8 429.8,76.4 430.1,76.6 430.3,77.2 430.5,78.1 430.8,74.7 431.0,75.6 431.2,75.3 431.5,75.4 431.8,74.4 432.0,73.7 432.3,73.0 432.6,72.1 432.9,71.9 433.3,72.8 433.7,72.8 434.1,74.1 434.4,71.9 434.8,71.9 435.2,72.3 435.6,72.0 435.9,70.8 436.1,70.6 436.4,69.1 436.7,70.0 436.9,69.5 437.2,69.4 437.5,66.9 437.9,67.6 438.2,67.6 438.5,69.4 438.8,68.1 439.3,68.0 439.7,69.5 440.1,68.2 440.6,67.6 441.0,67.0 441.4,66.8 441.8,68.8 442.0,68.2 442.3,68.8 442.6,68.3 442.8,68.9 443.1,69.5 443.4,69.2 443.8,70.0 444.2,71.5 444.6,71.3 444.9,70.7 445.3,71.2 445.7,69.5 446.0,70.1 446.4,70.1 446.8,68.0 447.2,69.3 447.5,70.1 447.9,67.8 448.3,69.1 448.6,68.8 448.9,67.0 449.2,68.1 449.5,67.7 449.9,65.9 450.2,66.6 450.5,66.2 450.8,66.1 451.1,66.6 451.5,65.5 451.8,66.7 452.2,65.1 452.6,65.2 453.0,63.3 453.4,64.6 453.8,63.6 454.2,66.0 454.7,65.1 455.1,63.7 455.5,65.3 455.9,66.0 456.4,66.1 456.8,66.2 457.2,66.0 457.7,65.0 458.0,64.2 458.3,66.9 458.7,64.5 459.0,64.5 459.3,65.1 459.6,64.0 459.8,62.2 460.0,63.0 460.2,61.5 460.4,61.3 460.6,61.2 460.9,61.7 461.2,61.3 461.5,62.3 461.9,61.1 462.4,61.1 462.8,61.5 463.0,61.4 463.3,62.4 463.6,63.4 463.8,62.3 464.1,63.7 464.4,64.6 464.7,64.9 464.9,64.0 465.2,63.5 465.5,65.6 465.7,64.7 465.9,64.7 466.0,64.2 466.2,63.1 466.3,63.6 466.4,64.0 466.6,63.2 466.7,62.0 466.9,61.0 467.0,62.0 467.1,62.5 467.3,60.4 467.7,60.0 468.0,61.5 468.3,61.3 468.6,62.5 469.0,62.9 469.3,62.7 469.7,62.4 470.1,63.3 470.4,63.2 470.6,63.4 470.9,64.0 471.1,63.4 471.3,63.7 471.6,65.0 471.8,66.8 472.0,65.5 472.1,65.1 472.2,64.8 472.4,62.7 472.5,64.0 472.7,63.4 472.8,63.3 473.0,62.2 473.1,61.0 473.2,61.6 473.4,60.3 473.7,60.5 474.1,59.4 474.5,60.7 474.9,61.1 475.2,60.3 475.6,58.9 476.0,58.7 476.4,58.2 476.7,59.4 477.0,58.4 477.3,59.1 477.6,57.3 478.0,56.8 478.2,58.1 478.4,58.9 478.7,58.8 478.9,59.7 479.1,59.8 479.4,59.8 479.6,60.4 479.8,57.9 480.1,60.7 480.3,59.6 480.5,58.6 480.7,59.6 481.0,56.8 481.2,57.9 481.4,55.6 481.7,57.4 481.9,55.1 482.1,55.1 482.4,54.5 482.6,54.4 482.9,54.6 483.1,56.0 483.4,56.3 483.7,56.8 484.0,57.3 484.3,57.3 484.6,56.4 485.0,56.1 485.4,55.5 485.8,55.6 486.2,56.2 486.6,55.4 487.1,57.5 487.5,56.3 487.9,57.3 488.3,58.1 488.8,57.3 489.1,54.9 489.5,57.2 489.9,56.1 490.3,55.5 490.6,56.0 490.9,56.4 491.2,56.0 491.5,54.1 491.8,55.1 492.1,54.4 492.3,54.3 492.5,53.5 492.8,53.2 493.0,50.8 493.2,52.3 493.4,51.5 493.6,51.8 493.8,52.7 494.0,51.0 494.2,50.5 494.4,51.3 494.5,51.8 494.6,51.2 494.7,51.6 494.8,52.2 494.9,52.6 495.0,53.3 495.2,53.6 495.3,53.8 495.4,53.1 495.7,56.3 495.9,55.5 496.2,55.1 496.5,54.9 496.8,57.1 497.0,56.5 497.3,56.7 497.6,58.8 497.8,57.8 498.1,57.5 498.4,57.2 498.8,57.7 499.2,58.6 499.6,57.4 500.0,57.8 500.5,57.8 500.9,58.6 501.4,58.4 501.5,57.7 501.5,57.3 501.5,56.0 501.6,57.6 501.8,57.4 502.0,57.9 502.3,57.7 502.5,56.7 502.7,57.0 503.0,58.6 503.3,57.2 503.7,58.0 504.0,57.3 504.4,58.1 504.6,57.1 504.7,56.6 504.8,57.5 504.9,56.5 505.0,56.1 505.1,55.7 505.2,56.1 505.3,55.0 505.4,54.2 505.4,54.0 505.5,53.5 505.6,53.3 505.7,52.8 505.8,50.3 505.9,51.1 506.0,51.8 506.2,49.2 506.3,49.9 506.4,48.8 506.5,48.5 506.6,49.1 506.8,48.0 507.0,47.1 507.2,46.8 507.4,46.9 507.6,46.7 507.9,45.1 508.3,45.4 508.7,46.6 508.9,47.0 509.0,48.9 509.2,48.0 509.3,48.5 509.5,49.5 509.7,48.8 509.9,49.5 510.1,49.9 510.4,52.0 510.6,50.2 510.8,50.3 511.1,51.7 511.3,52.6 511.6,50.6 512.0,51.6 512.3,51.0 512.6,51.4 512.9,50.4 513.1,50.7 513.3,50.0 513.6,52.9 513.8,51.5 514.0,51.6 514.3,53.5 514.5,52.5 514.7,52.9 514.9,50.8 515.1,50.6 515.3,51.3 515.5,51.5 515.7,50.5 515.9,49.4 516.3,49.1 516.7,49.6 517.0,47.4 517.4,49.2 517.9,48.2 518.3,48.0 518.7,47.7 519.1,48.6 519.4,49.6 519.7,49.0 520.0,49.7 520.3,48.1 520.6,48.9 520.8,48.8 521.1,50.6 521.3,49.0 521.5,48.7 521.8,50.0 522.0,49.8 522.4,50.4 522.7,51.5 523.1,52.2 523.5,52.7 523.8,51.9 524.0,51.2 524.3,51.7 524.6,50.4 524.9,50.8 525.1,50.0 525.3,50.6 525.6,50.7 525.8,52.0 526.0,52.4 526.3,51.4 526.5,52.6 526.8,51.3 527.0,53.6 527.3,54.1 527.6,52.8 527.8,54.1 528.1,54.2 528.3,55.2 528.6,53.7 528.8,53.3 529.0,52.8 529.3,51.3 529.5,51.6 529.7,50.9 530.0,51.0 530.2,51.4 530.4,49.2 530.7,52.2 530.9,49.3 531.1,49.4 531.5,49.0 531.8,47.1 532.2,48.6 532.6,47.0 532.9,48.5 533.2,46.9 533.6,47.0 533.9,47.1 534.2,47.2 534.6,45.5 535.0,46.4 535.5,46.4 535.9,47.3 536.3,45.7 536.6,45.6 537.0,46.4 537.4,48.1 537.6,47.6 537.9,49.4 538.2,48.7 538.4,49.4 538.7,50.0 539.0,48.7 539.4,48.0 539.8,50.0 540.2,50.8 540.5,51.1 540.8,49.7 541.1,51.1 541.5,50.4 541.8,50.6 542.0,51.1 542.1,52.2 542.2,52.1 542.3,54.1 542.4,53.7 542.5,55.4 542.6,54.6 542.7,54.5 542.8,53.8 543.0,55.3 543.1,56.1 543.2,56.8 543.3,56.5 543.4,57.4 543.6,57.3 543.9,56.4 544.3,56.9 544.5,55.6 544.8,55.1 545.0,55.3 545.2,54.9 545.5,54.6 545.7,55.8 545.9,54.6 546.3,54.1 546.6,55.0 547.0,54.0 547.4,52.6 547.8,52.1 548.1,53.0 548.5,54.7 548.9,54.1 549.1,54.3 549.3,52.6 549.5,54.5 549.6,52.7 549.8,52.4 549.9,52.3 550.1,50.9 550.2,51.7 550.4,50.5 550.6,50.1 550.8,50.5 551.0,48.2 551.2,48.4 551.4,49.1 551.6,47.8 551.8,49.5 552.1,49.5 552.4,47.4 552.6,49.4 552.9,48.3 553.2,49.7 553.4,49.0 553.7,51.2 554.0,52.8 554.3,51.7 554.5,52.8 554.9,51.7 555.3,51.5 555.8,52.3 556.2,50.5 556.4,52.2 556.6,52.2 556.8,53.3 557.0,54.4 557.2,53.3 557.4,54.8 557.6,55.2 557.8,56.6 558.1,56.0 558.3,57.0 558.5,56.3 558.8,57.2 559.0,57.1 559.2,58.1 559.4,55.4 559.5,56.7 559.7,55.5 559.8,56.9 560.0,56.7 560.1,54.5 560.2,55.2 560.4,54.3 560.5,54.3 560.7,52.8 560.8,52.8 561.1,51.9 561.5,52.8 561.8,53.4 562.1,53.7 562.4,55.2 562.8,53.5 563.2,55.5 563.5,54.0 563.9,52.9 564.4,54.4 564.8,53.9 565.1,53.0 565.3,53.4 565.4,55.3 565.6,55.0 565.7,56.0 565.9,56.1 566.0,56.3 566.2,55.6 566.4,57.5 566.5,56.4 566.7,57.4 566.8,57.1 567.0,57.5 567.2,57.0 567.3,55.5 567.5,55.8 567.6,53.6 567.8,53.9 567.9,52.5 568.2,54.5 568.6,53.7 569.0,54.5 569.4,53.4 569.9,53.6 570.3,54.1 570.8,54.0 571.2,53.8 571.6,54.6 572.0,54.6 572.3,54.4 572.7,56.2 573.1,55.6 573.5,54.6 573.8,54.9 574.2,53.2 574.5,53.3 574.8,53.2 575.2,53.1 575.5,51.5 575.8,52.2 576.0,51.8 576.2,50.8 576.4,52.0 576.6,52.4 576.8,49.9 577.0,49.5 577.2,50.3 577.5,48.6 577.9,49.4 578.4,48.5 578.8,49.5 579.0,48.7 579.3,48.1 579.5,47.9 579.7,46.7 580.0,46.8 580.2,46.8 580.5,45.5 580.9,45.3 581.3,46.2 581.8,46.0 582.2,46.2 582.5,45.9 582.9,44.8 583.3,44.7 583.7,44.8 584.2,45.5 584.6,44.5 585.0,44.5 585.3,45.5 585.7,45.2 586.0,46.5 586.3,46.1 586.6,47.5 586.9,46.9 587.1,45.8 587.4,47.5 587.7,48.5 587.9,48.6 588.3,48.9 588.8,49.0 589.2,48.1 589.6,48.0 590.0,48.6 590.4,49.1 590.7,49.7 591.1,50.5 591.5,50.1 592.0,49.6 592.4,51.0 592.8,50.3 593.2,50.1 593.5,51.1 593.9,51.2 594.2,52.0 594.5,51.2 594.8,53.9 595.1,52.1 595.3,53.5 595.6,53.9 595.8,54.7 595.9,53.7 596.1,51.7 596.3,52.6 596.4,51.9 596.6,51.8 596.7,48.7 596.9,49.6 597.0,49.8 597.2,49.0 597.4,48.9 597.7,48.6 597.9,47.8 598.1,47.8 598.4,48.1 598.6,47.4 598.9,46.4 599.2,46.6 599.5,47.8 599.8,48.6 600.1,48.8 600.3,47.1 600.4,49.1 600.5,48.0 600.7,50.5 600.8,50.2 600.9,53.0 601.0,50.2 601.1,51.3 601.2,52.0 601.3,51.6 601.5,52.6 601.6,53.5 601.8,51.4 602.0,49.8 602.1,51.9 602.3,50.8 602.4,49.2 602.6,50.3 602.7,48.5 602.9,49.4 603.1,48.3 603.2,47.8 603.4,47.0 603.5,45.7 603.7,46.3 603.8,45.6 604.0,45.4 604.2,46.5 604.3,45.3 604.6,43.2 604.8,42.8 605.1,43.9 605.3,43.9 605.5,43.2 605.6,43.5 605.7,45.2 605.8,44.5 606.0,44.6 606.1,45.2 606.2,44.4 606.3,46.6 606.4,47.8 606.5,48.3 606.6,46.4 606.7,47.0 606.8,48.4 606.9,48.5 607.0,50.3 607.1,50.0 607.1,51.3 607.2,49.4 607.3,50.5 607.4,52.0 607.5,50.2 607.7,50.8 607.8,52.9 608.0,52.6 608.1,53.6 608.3,53.8 608.4,54.2 608.7,55.8 609.1,54.1 609.5,53.8 609.8,54.7 610.1,54.0 610.4,52.3 610.7,53.0 611.0,51.9 611.2,52.4 611.5,51.6 611.7,50.5 611.9,50.3 612.0,50.5 612.2,49.4 612.4,49.5 612.6,48.8 612.7,48.0 612.9,47.8 613.2,47.4 613.6,47.8 614.0,47.6 614.5,48.7 614.8,47.0 615.1,47.1 615.4,49.8 615.8,49.4 616.1,50.8 616.5,50.6 616.9,50.2 617.4,49.6 617.7,50.0 618.0,49.8 618.3,50.2 618.5,49.5 618.8,50.0 619.1,51.3 619.3,51.6 619.4,53.6 619.6,53.7 619.7,53.4 619.9,54.4 620.1,53.6 620.3,52.6 620.5,52.3 620.8,52.6 621.0,52.0 621.2,51.3 621.5,52.0 621.7,50.7 622.0,51.0 622.3,51.9 622.5,50.6 622.8,50.4 623.1,48.3 623.4,48.2 623.7,49.7 624.0,48.2 624.4,47.1 624.7,47.7 625.0,47.4 625.3,47.1 625.6,45.6 625.9,45.2 626.4,45.9 626.8,45.9 627.2,47.3 627.6,46.2 628.0,45.5 628.4,44.8 628.7,44.8 629.1,45.8 629.4,44.9 629.7,43.8 630.0,43.1 630.4,42.8 630.7,42.7 631.1,43.4 631.5,43.1 631.9,42.6 632.2,42.3 632.6,43.8 633.0,40.6 633.4,41.7 633.7,41.4 634.1,39.1 634.5,40.4 634.9,40.3 635.3,40.7 635.7,40.6 636.1,39.9 636.4,40.7 636.7,40.2 637.1,40.3 637.5,42.8 637.8,41.4 638.2,43.0 638.6,42.3 638.9,43.0 639.2,42.9 639.5,42.3 639.8,42.1 640.1,45.1 640.5,44.1 640.8,44.5 641.1,44.9 641.4,45.6 641.8,43.9 642.2,45.7 642.6,47.1 642.9,46.3 643.3,44.5 643.7,47.4 644.1,47.1 644.4,48.1 644.8,47.0 645.2,47.2 645.6,50.0 645.8,47.9 646.0,47.2 646.2,47.5 646.3,47.4 646.5,46.0 646.7,45.8 646.8,44.7 647.0,45.3 647.1,45.7 647.3,44.3 647.4,44.4 647.5,44.3 647.7,43.2 647.9,42.9 648.1,42.5 648.3,42.7 648.5,40.9 648.7,41.0 648.9,40.3 649.3,40.9 649.6,40.8 649.8,39.9 650.0,38.7 650.2,41.3 650.4,40.6 650.7,41.8 650.8,42.6 650.9,42.9 651.0,43.6 651.1,44.3 651.2,43.5 651.3,45.4 651.4,43.5 651.5,45.4 651.6,44.9 651.7,48.0 651.8,47.6 652.0,46.4 652.2,45.2 652.3,45.9 652.5,44.3 652.7,43.3 652.9,44.8 653.0,44.2 653.2,43.3 653.5,41.6 653.8,43.5 654.0,41.7 654.3,41.5 654.6,41.3 654.8,41.2 655.0,41.5 655.1,40.5 655.3,43.2 655.5,42.2 655.6,43.0 655.9,43.7 656.1,43.2 656.4,45.0 656.7,45.4 656.9,45.8 657.2,45.6 657.6,44.2 658.1,45.7 658.5,43.6 658.9,46.1 659.1,44.5 659.4,46.0 659.7,46.0 659.9,45.3 660.2,46.9 660.5,45.4 660.7,45.3 661.0,45.8 661.3,45.3 661.6,45.3 661.8,43.8 662.2,43.7 662.5,43.1 662.8,44.9 663.1,43.9 663.4,43.6 663.5,43.8 663.7,44.4 663.9,45.8 664.0,44.6 664.2,46.5 664.4,44.9 664.5,47.2 664.7,47.3 664.9,47.0 665.0,47.3 665.2,48.4 665.4,48.8 665.7,49.5 666.0,50.2 666.3,49.9 666.7,49.4 667.0,51.4 667.4,51.1 667.7,50.4 668.1,50.9 668.5,50.7 668.9,50.8 669.4,50.8 669.8,50.3 670.2,49.9 670.6,50.2 670.9,50.2 671.3,49.3 671.6,50.1 671.7,48.3 671.9,48.7 672.1,48.2 672.2,48.1 672.4,47.5 672.5,46.5 672.7,46.8 672.8,45.7 673.0,46.2 673.4,43.7 673.8,45.8 674.2,44.4 674.6,43.5 675.1,44.5 675.5,45.4 675.9,44.8 676.4,45.2 676.8,46.4 677.2,46.8 677.6,46.9" fill="none" stroke="#00ff00" stroke-width="3.0" stroke-linejoin="round" stroke-linecap="butt"/>
<text transform="translate(536.7,7.8) scale(1,0.95)" text-anchor="middle" font-family="Liberation Sans" font-size="9.3" font-weight="bold" class="kb" fill="#000">Effect of delay on Susceptible Humans</text>
<text transform="translate(537,284) scale(1,1.08)" text-anchor="middle" font-family="Liberation Sans" font-size="9.45" class="k" fill="#262626">time (days)</text>
<text transform="translate(375,134.2) rotate(-90) scale(1.08,1)" text-anchor="middle" font-family="Liberation Sans" font-size="9.45" class="k" fill="#262626">Susceptible Humans</text>
<rect x="584.5" y="165.5" width="46.0" height="50.0" fill="#fff" stroke="#8a8a8a" stroke-width="1"/>
<line x1="587.2" y1="172.8" x2="606.3" y2="172.8" stroke="#ff0000" stroke-width="2.7"/>
<text transform="translate(608.3,176.10000000000002) scale(1,1.08)" font-family="Liberation Serif" font-style="italic" font-size="8.8" fill="#1a1a1a" class="k">τ</text>
<text transform="translate(611.4,176.10000000000002) scale(1,1.08)" font-family="Liberation Sans" font-size="7.9" fill="#1a1a1a" class="k">=0.1</text>
<line x1="587.2" y1="184.55" x2="606.3" y2="184.55" stroke="#ff00ff" stroke-width="2.7"/>
<text transform="translate(608.3,187.85000000000002) scale(1,1.08)" font-family="Liberation Serif" font-style="italic" font-size="8.8" fill="#1a1a1a" class="k">τ</text>
<text transform="translate(611.4,187.85000000000002) scale(1,1.08)" font-family="Liberation Sans" font-size="7.9" fill="#1a1a1a" class="k">=0.3</text>
<line x1="587.2" y1="196.3" x2="606.3" y2="196.3" stroke="#0000ff" stroke-width="2.7"/>
<text transform="translate(608.3,199.60000000000002) scale(1,1.08)" font-family="Liberation Serif" font-style="italic" font-size="8.8" fill="#1a1a1a" class="k">τ</text>
<text transform="translate(611.4,199.60000000000002) scale(1,1.08)" font-family="Liberation Sans" font-size="7.9" fill="#1a1a1a" class="k">=0.5</text>
<line x1="587.2" y1="208.05" x2="606.3" y2="208.05" stroke="#00ff00" stroke-width="2.7"/>
<text transform="translate(608.3,211.35000000000002) scale(1,1.08)" font-family="Liberation Serif" font-style="italic" font-size="8.8" fill="#1a1a1a" class="k">τ</text>
<text transform="translate(611.4,211.35000000000002) scale(1,1.08)" font-family="Liberation Sans" font-size="7.9" fill="#1a1a1a" class="k">=0.7</text>
<text transform="translate(140.5,318) scale(1,1.0)" text-anchor="middle" font-family="Liberation Serif" font-size="20" fill="#1470c2">(a)</text>
<text transform="translate(511.8,318) scale(1,1.0)" text-anchor="middle" font-family="Liberation Serif" font-size="20" fill="#1470c2">(b)</text>
</svg>
</body></html>
